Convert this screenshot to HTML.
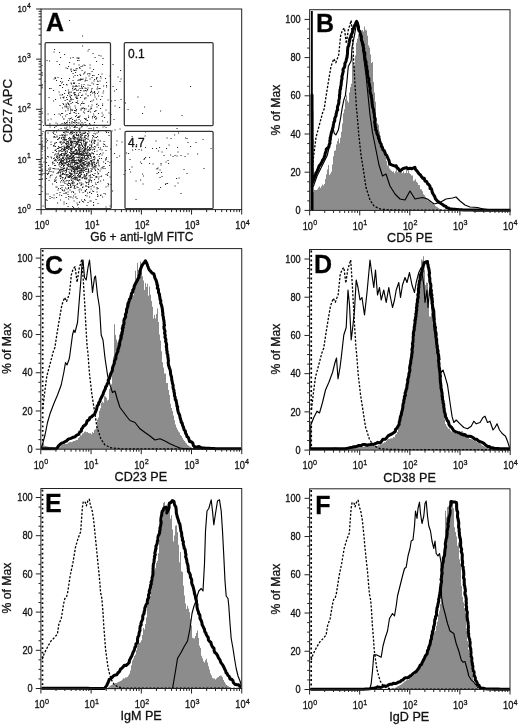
<!DOCTYPE html>
<html><head><meta charset="utf-8"><title>Figure</title>
<style>html,body{margin:0;padding:0;background:#fff}svg{display:block;filter:grayscale(1)}text{stroke:#111;stroke-width:.3px}</style></head>
<body>
<svg width="520" height="726" viewBox="0 0 520 726" font-family='"Liberation Sans", Arial, sans-serif'>
<rect width="520" height="726" fill="#fff"/>
<defs>
<clipPath id="clipB"><rect x="309.65" y="9.70" width="201.35" height="202.20"/></clipPath>
<clipPath id="clipC"><rect x="40.80" y="248.60" width="201.95" height="202.10"/></clipPath>
<clipPath id="clipD"><rect x="309.55" y="249.50" width="201.65" height="202.10"/></clipPath>
<clipPath id="clipE"><rect x="40.90" y="488.50" width="201.85" height="201.50"/></clipPath>
<clipPath id="clipF"><rect x="309.60" y="488.80" width="201.40" height="202.20"/></clipPath>
</defs>
<path d="M60.0 150.5h1.1M87.5 165.5h1.1M58.5 158.0h1.1M81.0 139.0h1.1M60.0 178.5h1.1M84.0 149.0h1.1M94.5 140.5h1.1M74.0 161.5h1.1M107.5 161.5h1.1M65.5 176.0h1.1M76.5 154.5h1.1M71.0 158.0h1.1M78.5 145.5h1.1M89.0 153.5h1.1M53.0 145.5h1.1M57.5 160.0h1.1M56.5 157.0h1.1M65.5 153.5h1.1M116.5 157.5h1.1M86.0 179.0h1.1M71.5 146.0h1.1M74.0 151.0h1.1M76.5 173.5h1.1M82.5 170.5h1.1M98.5 165.5h1.1M84.0 157.0h1.1M87.0 167.0h1.1M87.5 159.0h1.1M91.0 146.5h1.1M77.0 170.0h1.1M85.0 149.0h1.1M96.0 163.0h1.1M82.0 148.5h1.1M78.5 153.5h1.1M77.5 167.0h1.1M62.5 163.5h1.1M82.5 132.0h1.1M87.5 139.5h1.1M85.0 145.5h1.1M77.5 144.0h1.1M97.5 162.5h1.1M66.5 124.5h1.1M78.5 141.0h1.1M86.0 175.5h1.1M105.5 127.5h1.1M77.5 144.5h1.1M77.0 171.5h1.1M74.0 151.0h1.1M89.0 145.0h1.1M76.0 134.5h1.1M65.5 144.0h1.1M89.0 162.0h1.1M53.0 172.0h1.1M78.0 148.0h1.1M94.5 173.5h1.1M75.0 146.0h1.1M73.0 196.0h1.1M85.5 118.5h1.1M88.0 172.0h1.1M70.0 153.5h1.1M106.5 146.5h1.1M76.5 131.0h1.1M74.0 126.0h1.1M66.5 165.0h1.1M84.0 133.5h1.1M83.5 152.0h1.1M52.5 168.5h1.1M67.5 166.0h1.1M82.5 162.5h1.1M85.0 155.5h1.1M71.0 155.0h1.1M80.5 142.5h1.1M69.0 161.0h1.1M58.0 130.5h1.1M93.5 160.0h1.1M69.0 177.5h1.1M77.5 153.5h1.1M102.5 153.0h1.1M65.5 197.5h1.1M93.0 154.0h1.1M55.0 154.0h1.1M55.0 99.5h1.1M89.0 147.5h1.1M73.0 192.5h1.1M73.5 182.5h1.1M82.5 192.5h1.1M64.0 137.0h1.1M96.0 176.5h1.1M56.0 142.5h1.1M86.0 173.5h1.1M66.5 168.5h1.1M60.5 168.0h1.1M91.0 145.5h1.1M101.0 158.5h1.1M73.5 173.0h1.1M73.5 178.5h1.1M53.0 145.5h1.1M93.5 143.0h1.1M92.0 153.0h1.1M66.0 155.5h1.1M70.5 175.5h1.1M54.0 181.5h1.1M75.0 154.5h1.1M69.5 133.5h1.1M77.5 147.5h1.1M90.5 170.5h1.1M50.5 144.5h1.1M66.5 135.0h1.1M79.5 140.5h1.1M85.0 191.5h1.1M84.0 168.0h1.1M65.5 164.0h1.1M85.0 142.5h1.1M88.0 184.5h1.1M68.0 196.5h1.1M74.0 147.0h1.1M65.5 153.0h1.1M78.0 140.5h1.1M65.0 170.5h1.1M65.5 128.0h1.1M89.0 159.0h1.1M78.0 155.0h1.1M77.5 160.5h1.1M71.0 177.5h1.1M67.0 129.5h1.1M82.0 156.0h1.1M72.5 156.0h1.1M79.5 167.5h1.1M77.5 153.0h1.1M66.0 170.0h1.1M62.5 174.5h1.1M86.5 196.0h1.1M72.0 167.0h1.1M67.5 155.5h1.1M89.5 155.5h1.1M73.5 167.0h1.1M73.5 142.0h1.1M70.5 176.0h1.1M59.5 175.5h1.1M58.0 139.0h1.1M79.5 161.0h1.1M93.5 168.0h1.1M84.5 143.5h1.1M56.0 182.5h1.1M63.5 142.0h1.1M91.5 177.5h1.1M88.5 163.5h1.1M70.5 166.0h1.1M71.0 187.0h1.1M62.5 177.5h1.1M81.5 122.5h1.1M109.5 162.5h1.1M53.5 163.5h1.1M63.5 124.0h1.1M82.5 169.0h1.1M87.0 148.0h1.1M55.0 165.5h1.1M72.0 156.5h1.1M77.0 162.5h1.1M77.5 166.5h1.1M64.0 132.0h1.1M79.5 149.5h1.1M55.0 159.5h1.1M85.5 178.5h1.1M89.0 163.5h1.1M80.5 159.0h1.1M78.0 137.0h1.1M70.0 131.0h1.1M65.5 172.5h1.1M84.0 174.5h1.1M70.5 142.0h1.1M90.5 186.5h1.1M81.5 126.0h1.1M90.0 161.0h1.1M67.5 162.0h1.1M60.5 161.5h1.1M73.0 159.5h1.1M90.0 161.0h1.1M57.0 139.5h1.1M62.0 164.5h1.1M73.5 162.5h1.1M62.5 161.0h1.1M102.5 167.0h1.1M73.5 138.5h1.1M84.5 144.5h1.1M86.0 189.5h1.1M64.5 155.0h1.1M81.5 135.5h1.1M81.0 161.0h1.1M75.5 160.5h1.1M78.5 146.0h1.1M71.0 170.5h1.1M64.5 139.0h1.1M91.5 140.5h1.1M86.0 143.0h1.1M75.0 146.0h1.1M62.0 160.5h1.1M66.0 145.0h1.1M68.0 158.5h1.1M80.0 134.5h1.1M65.5 172.5h1.1M85.5 175.5h1.1M81.0 166.5h1.1M74.0 187.0h1.1M84.0 165.0h1.1M64.0 122.5h1.1M84.0 99.0h1.1M80.5 162.5h1.1M76.5 130.5h1.1M75.0 149.5h1.1M81.5 172.0h1.1M77.0 165.5h1.1M59.5 142.5h1.1M83.5 155.5h1.1M64.0 190.0h1.1M81.5 158.5h1.1M54.0 158.0h1.1M56.0 157.5h1.1M77.0 151.0h1.1M78.0 154.0h1.1M61.0 163.5h1.1M69.0 161.0h1.1M78.5 146.5h1.1M95.5 199.5h1.1M80.0 160.0h1.1M103.5 141.5h1.1M54.5 150.5h1.1M68.5 140.5h1.1M62.0 158.5h1.1M73.5 158.5h1.1M68.0 187.5h1.1M81.0 140.5h1.1M74.5 174.0h1.1M77.5 147.5h1.1M73.0 157.0h1.1M93.0 175.5h1.1M68.0 188.5h1.1M66.5 169.0h1.1M63.0 168.5h1.1M97.5 160.0h1.1M74.0 120.5h1.1M74.5 185.5h1.1M80.5 172.5h1.1M95.5 177.5h1.1M68.0 183.5h1.1M76.5 173.5h1.1M74.5 163.0h1.1M67.5 141.5h1.1M87.0 156.0h1.1M64.0 174.5h1.1M78.5 117.5h1.1M69.5 170.0h1.1M66.5 175.0h1.1M63.0 160.5h1.1M93.0 157.0h1.1M69.0 183.5h1.1M78.0 157.5h1.1M60.0 175.0h1.1M74.5 140.0h1.1M83.0 153.5h1.1M71.0 151.5h1.1M75.0 121.0h1.1M61.0 163.0h1.1M91.0 161.5h1.1M93.0 157.5h1.1M77.0 163.0h1.1M58.0 173.0h1.1M103.0 146.5h1.1M83.0 141.0h1.1M82.5 140.0h1.1M72.0 160.5h1.1M87.5 163.0h1.1M58.5 160.5h1.1M68.5 147.0h1.1M66.0 174.5h1.1M71.0 131.0h1.1M74.5 154.5h1.1M75.5 152.0h1.1M87.0 134.0h1.1M54.5 134.5h1.1M75.0 162.5h1.1M105.5 159.5h1.1M99.5 141.0h1.1M62.5 149.0h1.1M84.5 159.0h1.1M46.0 162.5h1.1M73.0 175.5h1.1M98.0 161.0h1.1M70.5 162.0h1.1M65.5 170.0h1.1M76.5 152.0h1.1M69.0 158.5h1.1M58.0 148.5h1.1M66.0 153.5h1.1M64.0 165.5h1.1M78.0 177.0h1.1M106.0 157.5h1.1M74.5 169.0h1.1M95.0 134.0h1.1M79.0 179.5h1.1M69.0 146.5h1.1M69.0 176.5h1.1M60.5 169.5h1.1M75.5 167.5h1.1M75.5 110.5h1.1M97.5 174.0h1.1M79.5 155.5h1.1M73.5 139.5h1.1M71.0 162.5h1.1M70.5 158.5h1.1M91.5 144.0h1.1M58.5 164.5h1.1M65.0 143.5h1.1M78.0 142.0h1.1M74.5 188.5h1.1M81.0 153.0h1.1M81.5 178.5h1.1M76.0 168.5h1.1M66.5 151.0h1.1M79.5 171.5h1.1M53.5 198.0h1.1M68.0 138.5h1.1M74.5 194.0h1.1M64.5 150.0h1.1M96.0 137.5h1.1M80.0 153.5h1.1M62.0 164.5h1.1M71.0 170.0h1.1M76.0 163.5h1.1M79.5 133.0h1.1M84.5 150.0h1.1M72.0 182.0h1.1M74.0 148.0h1.1M62.5 136.0h1.1M71.0 151.0h1.1M71.0 177.5h1.1M101.0 176.0h1.1M86.5 166.0h1.1M78.5 170.5h1.1M70.0 141.5h1.1M99.5 171.0h1.1M75.5 141.5h1.1M67.5 145.0h1.1M65.5 147.0h1.1M80.5 137.0h1.1M80.0 176.5h1.1M83.5 175.0h1.1M84.5 132.0h1.1M82.5 166.0h1.1M90.0 154.0h1.1M59.5 163.0h1.1M93.0 162.0h1.1M76.5 162.5h1.1M54.0 165.5h1.1M79.5 153.5h1.1M73.0 192.5h1.1M90.5 145.0h1.1M88.0 135.5h1.1M69.5 167.0h1.1M79.0 129.0h1.1M54.0 160.5h1.1M66.0 147.5h1.1M93.5 162.0h1.1M59.5 156.0h1.1M71.5 182.5h1.1M86.5 165.5h1.1M84.0 178.5h1.1M89.0 181.0h1.1M88.5 187.0h1.1M92.5 163.0h1.1M55.5 161.0h1.1M79.5 173.5h1.1M69.0 152.5h1.1M73.0 207.5h1.1M70.0 150.0h1.1M79.0 140.0h1.1M66.5 114.5h1.1M85.0 152.0h1.1M89.0 141.0h1.1M76.5 167.0h1.1M88.0 150.0h1.1M51.5 175.0h1.1M81.0 155.0h1.1M78.5 146.5h1.1M77.0 130.5h1.1M68.0 163.5h1.1M79.0 144.5h1.1M85.0 132.5h1.1M69.0 137.5h1.1M81.0 174.0h1.1M73.5 122.5h1.1M85.0 164.5h1.1M45.0 169.0h1.1M66.5 155.5h1.1M104.0 144.5h1.1M79.0 172.5h1.1M60.5 160.5h1.1M69.5 107.0h1.1M70.0 167.0h1.1M89.5 155.5h1.1M59.5 135.5h1.1M71.5 179.0h1.1M79.0 149.0h1.1M71.0 145.5h1.1M85.5 171.5h1.1M49.5 196.5h1.1M73.5 136.5h1.1M88.0 134.0h1.1M98.5 156.5h1.1M88.5 182.0h1.1M84.0 150.5h1.1M74.0 164.5h1.1M61.0 154.5h1.1M91.0 163.0h1.1M82.0 168.0h1.1M78.5 173.5h1.1M80.0 160.5h1.1M79.0 167.0h1.1M60.5 162.5h1.1M88.0 131.0h1.1M71.0 143.5h1.1M84.5 150.5h1.1M56.0 151.5h1.1M63.0 137.5h1.1M85.0 146.5h1.1M43.5 146.5h1.1M84.0 178.0h1.1M87.5 155.5h1.1M73.0 168.5h1.1M62.5 164.0h1.1M114.0 153.5h1.1M78.0 167.5h1.1M67.5 166.0h1.1M64.0 142.5h1.1M72.0 142.5h1.1M60.5 141.5h1.1M75.0 146.0h1.1M74.0 171.5h1.1M90.5 164.0h1.1M73.5 171.5h1.1M78.0 163.5h1.1M78.5 151.0h1.1M66.5 180.5h1.1M80.5 142.0h1.1M84.0 176.0h1.1M83.0 150.5h1.1M79.0 150.0h1.1M71.0 153.5h1.1M87.0 165.5h1.1M57.0 158.5h1.1M77.5 187.5h1.1M66.5 147.0h1.1M73.5 155.5h1.1M59.5 142.0h1.1M97.0 160.0h1.1M66.0 176.0h1.1M86.5 155.0h1.1M65.0 137.0h1.1M85.0 147.0h1.1M53.0 158.5h1.1M83.0 177.0h1.1M87.0 133.5h1.1M88.0 169.0h1.1M66.5 141.5h1.1M87.5 136.5h1.1M90.5 158.5h1.1M70.0 187.5h1.1M85.0 119.5h1.1M69.5 165.0h1.1M83.5 151.0h1.1M58.0 169.0h1.1M61.5 123.5h1.1M66.0 143.0h1.1M99.0 125.5h1.1M93.0 130.0h1.1M59.5 162.5h1.1M66.0 161.5h1.1M108.0 184.5h1.1M82.0 177.5h1.1M92.0 135.5h1.1M69.0 122.5h1.1M76.0 135.5h1.1M79.0 166.0h1.1M70.5 159.0h1.1M83.0 155.0h1.1M105.0 160.0h1.1M69.5 169.0h1.1M65.5 181.0h1.1M63.0 142.0h1.1M76.0 160.0h1.1M79.5 139.5h1.1M83.0 144.0h1.1M68.0 161.5h1.1M65.5 158.5h1.1M65.0 163.0h1.1M73.0 160.5h1.1M72.0 165.0h1.1M91.5 162.5h1.1M62.5 153.5h1.1M61.5 174.5h1.1M76.5 184.5h1.1M88.0 184.5h1.1M64.0 147.5h1.1M50.5 171.5h1.1M60.0 160.0h1.1M50.5 142.0h1.1M73.5 152.0h1.1M71.0 192.0h1.1M73.5 179.0h1.1M75.5 171.0h1.1M71.0 160.5h1.1M85.0 144.5h1.1M62.5 157.0h1.1M93.5 149.0h1.1M66.0 159.0h1.1M71.0 141.5h1.1M75.5 150.5h1.1M103.0 180.0h1.1M62.5 185.5h1.1M55.0 143.0h1.1M79.0 130.0h1.1M50.5 171.5h1.1M93.5 140.0h1.1M86.5 142.5h1.1M75.5 157.0h1.1M75.5 143.0h1.1M73.0 151.5h1.1M93.5 175.5h1.1M66.0 147.5h1.1M72.0 159.5h1.1M101.5 150.0h1.1M70.0 139.0h1.1M107.0 175.5h1.1M67.0 155.0h1.1M67.0 121.0h1.1M82.0 163.5h1.1M81.5 170.0h1.1M67.5 155.0h1.1M105.0 194.0h1.1M80.5 134.5h1.1M84.5 125.0h1.1M81.0 154.5h1.1M73.5 171.0h1.1M95.5 176.5h1.1M73.5 165.5h1.1M65.5 193.5h1.1M70.5 154.5h1.1M77.0 143.0h1.1M73.0 167.5h1.1M79.0 146.0h1.1M64.0 182.0h1.1M62.5 139.5h1.1M87.5 171.5h1.1M76.5 143.0h1.1M92.0 168.0h1.1M72.0 133.5h1.1M105.5 131.5h1.1M61.0 149.5h1.1M71.5 158.0h1.1M67.0 165.0h1.1M75.0 127.0h1.1M84.0 150.0h1.1M75.5 169.5h1.1M72.5 136.5h1.1M85.5 124.5h1.1M78.5 157.5h1.1M55.0 150.5h1.1M53.5 131.5h1.1M67.5 157.0h1.1M58.5 165.0h1.1M63.5 138.0h1.1M78.5 176.5h1.1M51.0 158.0h1.1M69.0 175.5h1.1M82.5 160.0h1.1M76.5 166.5h1.1M68.0 164.5h1.1M55.0 146.5h1.1M80.5 185.5h1.1M76.5 138.0h1.1M78.0 135.5h1.1M72.0 157.0h1.1M59.0 172.0h1.1M52.5 172.0h1.1M78.5 148.5h1.1M90.0 155.0h1.1M63.0 150.0h1.1M73.5 127.5h1.1M100.0 141.0h1.1M61.0 165.5h1.1M77.5 168.5h1.1M82.0 145.5h1.1M85.5 153.0h1.1M64.0 171.0h1.1M73.5 135.0h1.1M95.0 141.0h1.1M79.5 146.0h1.1M85.5 135.5h1.1M86.0 182.5h1.1M87.0 150.5h1.1M69.5 148.0h1.1M79.0 158.0h1.1M54.0 155.0h1.1M82.0 157.5h1.1M55.5 149.5h1.1M84.0 154.0h1.1M80.5 163.0h1.1M67.0 148.5h1.1M71.0 154.0h1.1M116.0 145.0h1.1M77.0 184.0h1.1M76.5 144.5h1.1M66.5 161.0h1.1M47.0 148.0h1.1M67.5 145.5h1.1M92.5 159.5h1.1M87.5 153.0h1.1M72.5 161.5h1.1M64.5 135.5h1.1M86.0 173.5h1.1M86.0 169.0h1.1M56.5 137.0h1.1M59.0 137.5h1.1M77.5 142.0h1.1M81.5 138.0h1.1M79.5 147.5h1.1M78.5 139.0h1.1M70.5 140.0h1.1M94.0 158.0h1.1M80.5 165.5h1.1M71.5 152.5h1.1M71.0 171.5h1.1M75.0 154.0h1.1M79.5 145.0h1.1M53.0 133.5h1.1M73.0 169.5h1.1M70.5 149.5h1.1M86.0 163.0h1.1M77.0 183.5h1.1M77.5 159.0h1.1M70.0 142.5h1.1M97.5 140.0h1.1M65.5 131.5h1.1M71.0 157.5h1.1M68.0 149.5h1.1M82.0 154.5h1.1M72.5 159.5h1.1M70.0 141.0h1.1M68.5 159.5h1.1M72.5 169.5h1.1M72.5 181.0h1.1M80.5 148.0h1.1M71.5 131.5h1.1M65.0 148.0h1.1M81.0 166.0h1.1M72.0 142.0h1.1M76.0 152.5h1.1M92.5 153.5h1.1M54.5 169.0h1.1M85.5 159.0h1.1M61.5 189.5h1.1M79.0 132.0h1.1M59.5 192.5h1.1M81.5 166.0h1.1M71.5 162.5h1.1M64.0 149.5h1.1M86.5 151.0h1.1M68.5 140.0h1.1M74.0 147.5h1.1M63.5 146.0h1.1M84.5 135.5h1.1M75.5 149.5h1.1M68.0 142.5h1.1M85.0 139.0h1.1M70.5 177.0h1.1M74.5 160.5h1.1M66.0 147.0h1.1M87.0 150.5h1.1M89.0 150.5h1.1M63.0 166.5h1.1M71.0 145.5h1.1M86.5 154.5h1.1M88.0 170.5h1.1M74.0 132.5h1.1M80.5 140.0h1.1M52.0 184.0h1.1M64.5 140.5h1.1M95.5 167.0h1.1M63.0 173.5h1.1M64.0 148.0h1.1M71.5 126.0h1.1M84.0 168.0h1.1M78.0 159.5h1.1M85.0 142.0h1.1M71.0 142.5h1.1M82.5 158.5h1.1M78.5 146.0h1.1M71.5 168.0h1.1M91.0 157.0h1.1M68.0 149.5h1.1M57.0 156.0h1.1M58.5 164.0h1.1M53.5 168.5h1.1M86.5 160.0h1.1M60.5 128.5h1.1M67.5 132.5h1.1M69.0 180.5h1.1M98.0 164.0h1.1M84.5 137.5h1.1M59.0 155.5h1.1M68.0 147.0h1.1M75.0 177.5h1.1M76.0 144.5h1.1M71.5 147.5h1.1M68.5 157.5h1.1M79.5 154.5h1.1M91.0 141.5h1.1M85.5 145.0h1.1M77.0 175.5h1.1M88.5 128.5h1.1M78.0 161.0h1.1M75.0 137.5h1.1M79.0 173.0h1.1M73.0 169.5h1.1M73.0 171.5h1.1M64.5 133.0h1.1M88.0 183.0h1.1M63.5 164.0h1.1M70.5 179.0h1.1M86.0 183.0h1.1M84.0 145.5h1.1M71.0 167.5h1.1M76.0 154.5h1.1M49.5 177.0h1.1M82.0 158.5h1.1M70.0 173.0h1.1M66.5 169.0h1.1M109.5 177.0h1.1M94.0 149.0h1.1M78.0 153.5h1.1M70.5 131.0h1.1M81.5 157.5h1.1M74.0 153.5h1.1M61.5 162.0h1.1M67.5 147.0h1.1M82.5 187.0h1.1M72.5 141.0h1.1M59.5 176.0h1.1M87.5 159.0h1.1M70.0 176.5h1.1M77.5 166.0h1.1M78.0 150.0h1.1M84.0 162.0h1.1M69.0 156.5h1.1M74.0 154.0h1.1M69.0 160.5h1.1M68.0 166.5h1.1M77.0 138.0h1.1M68.5 147.5h1.1M79.5 155.0h1.1M83.5 166.0h1.1M82.0 152.0h1.1M82.5 125.0h1.1M62.5 155.5h1.1M79.5 172.5h1.1M90.0 149.5h1.1M65.5 176.0h1.1M70.0 118.5h1.1M102.0 197.0h1.1M53.0 146.0h1.1M74.0 167.0h1.1M82.5 155.5h1.1M79.0 152.5h1.1M62.0 135.5h1.1M69.5 138.5h1.1M84.0 156.0h1.1M77.0 157.5h1.1M52.5 162.0h1.1M80.5 183.0h1.1M57.0 139.5h1.1M85.0 182.0h1.1M81.0 157.5h1.1M87.5 162.0h1.1M72.5 169.0h1.1M77.5 159.0h1.1M67.0 162.5h1.1M66.0 146.5h1.1M62.5 182.0h1.1M63.5 139.0h1.1M69.0 146.5h1.1M84.5 165.0h1.1M84.5 148.5h1.1M74.5 168.5h1.1M74.5 177.5h1.1M72.0 166.5h1.1M80.5 151.5h1.1M67.5 143.0h1.1M90.0 156.0h1.1M66.0 148.5h1.1M45.0 166.5h1.1M82.5 124.0h1.1M66.0 132.0h1.1M104.0 126.0h1.1M46.0 139.0h1.1M77.5 140.5h1.1M73.0 167.0h1.1M72.5 132.5h1.1M85.5 161.5h1.1M80.0 142.5h1.1M82.5 157.5h1.1M67.0 169.0h1.1M70.0 166.0h1.1M55.5 180.0h1.1M86.0 175.0h1.1M59.0 157.5h1.1M93.0 136.0h1.1M70.0 174.0h1.1M68.5 172.0h1.1M68.5 149.0h1.1M62.0 169.5h1.1M72.0 157.5h1.1M65.5 170.0h1.1M61.0 169.5h1.1M81.5 161.0h1.1M74.5 171.0h1.1M72.0 206.5h1.1M54.5 137.5h1.1M102.0 121.0h1.1M66.0 156.5h1.1M85.0 177.0h1.1M97.0 169.0h1.1M79.5 176.0h1.1M80.0 157.0h1.1M88.5 176.0h1.1M75.0 127.0h1.1M60.5 151.0h1.1M80.5 165.0h1.1M72.0 133.5h1.1M89.5 147.5h1.1M78.5 175.5h1.1M76.5 127.5h1.1M88.5 179.5h1.1M49.5 168.0h1.1M77.5 166.0h1.1M71.5 151.5h1.1M86.5 153.5h1.1M91.0 180.5h1.1M81.0 150.0h1.1M56.5 136.0h1.1M55.0 181.0h1.1M108.5 135.5h1.1M80.0 134.5h1.1M89.5 175.5h1.1M81.5 133.5h1.1M73.0 155.5h1.1M69.5 145.0h1.1M68.5 166.5h1.1M60.0 172.5h1.1M78.0 149.0h1.1M70.5 174.5h1.1M79.5 151.0h1.1M91.0 165.0h1.1M70.0 148.5h1.1M94.5 158.0h1.1M74.0 172.5h1.1M70.5 141.0h1.1M86.0 138.5h1.1M54.5 143.0h1.1M63.5 147.0h1.1M45.5 158.5h1.1M64.0 135.5h1.1M76.5 135.5h1.1M69.5 124.0h1.1M69.5 125.5h1.1M69.0 173.5h1.1M86.5 163.5h1.1M74.5 179.5h1.1M71.0 155.0h1.1M66.5 150.5h1.1M46.0 142.0h1.1M70.0 132.5h1.1M71.0 168.0h1.1M69.5 152.5h1.1M83.0 164.5h1.1M65.0 149.5h1.1M85.5 186.0h1.1M62.0 168.0h1.1M97.0 136.5h1.1M85.5 148.5h1.1M61.0 138.0h1.1M69.5 170.0h1.1M100.0 181.0h1.1M93.0 153.5h1.1M63.5 154.0h1.1M64.5 154.0h1.1M67.0 177.0h1.1M109.0 165.5h1.1M88.0 157.5h1.1M84.0 178.0h1.1M88.0 149.5h1.1M60.5 143.0h1.1M83.0 108.0h1.1M78.0 141.5h1.1M83.0 144.0h1.1M75.0 164.0h1.1M84.5 136.0h1.1M60.5 176.0h1.1M74.5 126.5h1.1M72.5 185.5h1.1M85.5 144.0h1.1M100.0 153.5h1.1M100.5 169.0h1.1M86.5 154.5h1.1M60.0 161.5h1.1M92.0 138.0h1.1M70.5 138.5h1.1M86.5 142.0h1.1M79.0 152.0h1.1M65.0 158.0h1.1M77.0 169.0h1.1M71.5 154.0h1.1M78.0 139.0h1.1M62.0 163.5h1.1M78.5 163.0h1.1M79.5 164.5h1.1M90.0 160.5h1.1M61.0 144.5h1.1M96.5 189.0h1.1M73.5 155.5h1.1M88.5 132.0h1.1M73.5 183.0h1.1M83.5 140.0h1.1M81.0 155.5h1.1M65.0 116.0h1.1M60.0 182.0h1.1M87.5 152.0h1.1M84.0 151.0h1.1M96.5 133.0h1.1M68.5 140.0h1.1M60.5 185.5h1.1M90.5 164.0h1.1M48.0 157.0h1.1M67.0 148.5h1.1M74.5 169.5h1.1M66.0 144.0h1.1M63.5 154.5h1.1M63.0 149.5h1.1M98.0 147.5h1.1M89.5 149.5h1.1M63.0 162.0h1.1M76.0 149.5h1.1M67.5 146.5h1.1M66.0 155.5h1.1M75.0 176.0h1.1M88.0 156.0h1.1M76.5 157.5h1.1M48.5 180.5h1.1M64.0 140.0h1.1M68.0 146.5h1.1M62.5 171.0h1.1M69.5 139.0h1.1M54.5 160.0h1.1M80.5 154.5h1.1M75.0 144.0h1.1M79.0 173.5h1.1M83.5 170.0h1.1M71.0 132.5h1.1M106.0 132.5h1.1M80.5 170.0h1.1M65.5 129.0h1.1M79.5 180.0h1.1M95.0 147.0h1.1M92.0 150.0h1.1M48.0 169.0h1.1M73.5 159.5h1.1M94.5 168.0h1.1M74.0 158.0h1.1M74.0 174.0h1.1M60.0 200.0h1.1M79.5 160.0h1.1M78.0 174.5h1.1M75.5 173.0h1.1M62.5 151.0h1.1M83.5 147.0h1.1M74.5 163.5h1.1M93.0 136.0h1.1M67.5 175.0h1.1M80.0 151.5h1.1M63.5 119.0h1.1M49.0 171.0h1.1M78.5 140.5h1.1M52.0 164.0h1.1M93.5 133.5h1.1M72.0 156.0h1.1M64.0 150.5h1.1M62.0 190.5h1.1M56.0 156.0h1.1M58.5 138.5h1.1M91.5 140.0h1.1M83.5 138.0h1.1M78.5 142.5h1.1M81.0 144.0h1.1M62.5 168.0h1.1M62.5 143.0h1.1M81.5 170.0h1.1M63.0 166.5h1.1M86.5 158.5h1.1M72.0 168.5h1.1M74.0 130.0h1.1M66.5 162.5h1.1M96.5 145.0h1.1M61.0 138.5h1.1M59.5 147.5h1.1M43.5 173.5h1.1M87.0 167.0h1.1M66.0 156.0h1.1M75.5 164.5h1.1M66.5 127.0h1.1M94.0 151.5h1.1M61.0 165.5h1.1M71.5 148.5h1.1M95.5 165.5h1.1M77.0 164.0h1.1M77.0 168.5h1.1M80.0 137.5h1.1M70.5 162.5h1.1M76.5 178.5h1.1M98.0 179.0h1.1M71.0 171.5h1.1M94.0 165.0h1.1M69.0 125.5h1.1M74.0 170.0h1.1M75.0 153.5h1.1M66.0 160.0h1.1M72.5 145.0h1.1M85.0 143.0h1.1M73.5 143.5h1.1M72.5 137.5h1.1M80.5 164.0h1.1M91.0 182.0h1.1M63.0 170.0h1.1M73.5 177.5h1.1M60.0 188.5h1.1M76.5 169.5h1.1M103.0 144.0h1.1M61.0 135.0h1.1M76.5 139.0h1.1M61.5 137.5h1.1M89.0 164.0h1.1M64.5 163.0h1.1M78.5 116.5h1.1M98.0 132.0h1.1M72.5 162.5h1.1M80.0 161.5h1.1M69.5 160.5h1.1M86.0 158.0h1.1M78.5 161.0h1.1M73.0 162.5h1.1M91.0 153.0h1.1M94.0 159.5h1.1M88.5 180.0h1.1M70.0 158.0h1.1M67.5 158.5h1.1M63.5 159.5h1.1M67.0 157.0h1.1M71.5 173.5h1.1M70.0 156.5h1.1M59.0 155.0h1.1M91.0 160.5h1.1M82.0 146.5h1.1M65.0 135.0h1.1M107.0 174.0h1.1M102.5 168.5h1.1M93.5 187.0h1.1M89.5 154.5h1.1M59.0 170.5h1.1M62.0 172.0h1.1M80.0 160.0h1.1M43.5 162.0h1.1M81.0 155.5h1.1M96.5 187.5h1.1M78.5 156.5h1.1M84.5 179.0h1.1M59.0 159.5h1.1M76.5 187.0h1.1M80.0 157.0h1.1M84.5 200.5h1.1M81.5 171.5h1.1M69.5 144.0h1.1M96.5 154.5h1.1M74.0 135.0h1.1M64.0 159.5h1.1M69.0 173.0h1.1M77.5 123.0h1.1M78.5 148.5h1.1M75.0 138.0h1.1M77.5 171.5h1.1M76.5 133.0h1.1M74.0 137.0h1.1M74.5 123.0h1.1M79.0 146.0h1.1M71.5 143.0h1.1M72.5 181.5h1.1M79.0 177.0h1.1M94.0 143.5h1.1M75.5 145.5h1.1M42.5 131.5h1.1M67.0 145.5h1.1M107.5 183.5h1.1M70.0 151.0h1.1M80.5 185.0h1.1M63.5 132.0h1.1M67.5 147.5h1.1M58.0 172.0h1.1M52.5 152.5h1.1M90.0 155.5h1.1M72.0 153.0h1.1M81.0 161.5h1.1M82.5 124.5h1.1M103.5 166.5h1.1M59.5 125.0h1.1M87.5 136.5h1.1M83.0 160.5h1.1M87.5 138.0h1.1M90.0 175.0h1.1M88.5 162.5h1.1M71.0 151.0h1.1M71.0 118.0h1.1M82.5 152.5h1.1M73.0 152.5h1.1M72.5 147.0h1.1M86.0 143.0h1.1M59.5 162.5h1.1M76.5 177.0h1.1M80.0 159.0h1.1M76.0 150.5h1.1M67.5 131.0h1.1M88.5 166.0h1.1M81.0 144.5h1.1M65.5 162.5h1.1M84.0 199.5h1.1M58.5 151.5h1.1M83.0 172.0h1.1M86.0 120.0h1.1M78.0 157.5h1.1M76.0 173.5h1.1M82.5 154.0h1.1M84.5 133.0h1.1M76.0 153.5h1.1M79.5 128.0h1.1M57.0 157.0h1.1M67.5 154.5h1.1M86.0 155.5h1.1M84.5 153.5h1.1M66.5 167.5h1.1M58.0 153.0h1.1M70.5 143.0h1.1M87.5 171.5h1.1M61.5 146.5h1.1M64.5 153.5h1.1M83.0 163.0h1.1M98.0 169.5h1.1M80.5 163.5h1.1M73.5 147.0h1.1M73.5 169.0h1.1M69.0 162.0h1.1M85.0 161.5h1.1M91.0 142.5h1.1M66.0 139.5h1.1M47.0 156.5h1.1M63.0 158.5h1.1M90.0 156.5h1.1M73.0 135.5h1.1M66.0 170.5h1.1M87.5 146.5h1.1M57.5 154.0h1.1M85.0 159.5h1.1M70.5 154.5h1.1M78.0 168.5h1.1M86.0 183.0h1.1M74.5 121.0h1.1M62.0 157.5h1.1M46.5 170.5h1.1M61.0 155.5h1.1M69.0 126.0h1.1M63.5 157.0h1.1M78.0 146.0h1.1M86.5 182.5h1.1M103.0 162.0h1.1M66.5 184.0h1.1M70.0 186.0h1.1M77.5 166.5h1.1M79.5 170.0h1.1M76.0 120.0h1.1M90.0 154.0h1.1M63.0 132.5h1.1M54.0 180.0h1.1M91.5 166.5h1.1M92.5 147.5h1.1M102.5 127.0h1.1M82.5 167.5h1.1M83.0 133.5h1.1M77.0 205.0h1.1M70.5 163.0h1.1M74.5 162.5h1.1M89.5 178.0h1.1M81.0 190.0h1.1M48.0 173.5h1.1M66.0 171.5h1.1M66.5 146.5h1.1M82.5 155.5h1.1M78.0 168.5h1.1M63.0 180.5h1.1M70.0 175.5h1.1M71.0 145.0h1.1M82.0 135.0h1.1M63.5 193.5h1.1M61.5 124.0h1.1M84.0 164.0h1.1M92.0 164.0h1.1M96.0 163.5h1.1M70.0 145.5h1.1M61.0 159.5h1.1M99.5 149.5h1.1M61.5 161.0h1.1M75.0 169.5h1.1M80.5 136.0h1.1M76.0 142.0h1.1M79.0 154.5h1.1M66.0 141.0h1.1M92.0 164.5h1.1M64.0 148.5h1.1M76.5 138.5h1.1M81.5 159.0h1.1M58.0 146.5h1.1M76.5 178.0h1.1M56.5 187.0h1.1M83.0 164.0h1.1M67.0 159.0h1.1M75.5 162.5h1.1M84.5 140.0h1.1M72.5 131.0h1.1M73.5 171.5h1.1M77.0 180.5h1.1M71.5 174.5h1.1M70.0 153.5h1.1M44.5 150.5h1.1M78.5 160.5h1.1M84.0 151.5h1.1M70.5 173.5h1.1M84.5 144.5h1.1M56.5 169.0h1.1M60.5 143.0h1.1M68.0 177.5h1.1M94.0 149.5h1.1M78.0 153.0h1.1M73.0 156.5h1.1M86.5 149.5h1.1M69.5 155.5h1.1M98.5 166.0h1.1M58.5 155.0h1.1M61.0 113.5h1.1M83.0 147.5h1.1M80.0 124.5h1.1M62.5 158.0h1.1M54.0 136.5h1.1M74.0 127.5h1.1M71.5 174.5h1.1M66.5 143.5h1.1M65.0 153.0h1.1M66.0 169.0h1.1M68.0 130.0h1.1M61.5 151.5h1.1M85.0 169.5h1.1M56.0 132.0h1.1M97.0 161.0h1.1M60.0 142.5h1.1M74.5 171.0h1.1M70.0 197.0h1.1M65.0 177.5h1.1M58.5 147.5h1.1M78.5 129.0h1.1M64.5 135.0h1.1M88.0 155.0h1.1M76.0 169.5h1.1M68.5 164.5h1.1M43.0 125.5h1.1M84.5 122.5h1.1M90.5 149.0h1.1M85.5 185.5h1.1M62.0 143.0h1.1M70.0 184.0h1.1M75.0 178.5h1.1M75.0 131.0h1.1M60.5 164.5h1.1M82.0 157.5h1.1M77.5 171.5h1.1M70.5 197.0h1.1M72.5 136.0h1.1M61.0 160.5h1.1M84.0 137.0h1.1M89.5 172.0h1.1M69.5 128.0h1.1M69.0 152.5h1.1M64.0 168.5h1.1M47.0 174.5h1.1M62.5 134.5h1.1M84.5 150.5h1.1M68.5 180.5h1.1M81.0 171.0h1.1M73.5 141.5h1.1M72.5 158.0h1.1M62.5 140.0h1.1M81.5 145.5h1.1M95.5 184.5h1.1M75.0 146.5h1.1M79.0 152.0h1.1M81.0 183.0h1.1M74.0 138.0h1.1M74.0 160.5h1.1M85.5 186.5h1.1M80.0 132.0h1.1M71.5 171.0h1.1M81.5 165.0h1.1M64.5 154.5h1.1M54.0 146.0h1.1M59.5 166.5h1.1M84.0 158.0h1.1M78.0 134.5h1.1M94.0 122.5h1.1M68.0 142.0h1.1M54.0 144.0h1.1M91.5 169.5h1.1M81.0 143.5h1.1M73.0 168.0h1.1M94.0 179.5h1.1M77.0 141.5h1.1M78.0 131.0h1.1M93.5 149.5h1.1M97.5 145.0h1.1M59.0 163.0h1.1M78.5 154.0h1.1M47.5 120.0h1.1M49.5 198.5h1.1M83.5 168.0h1.1M101.5 167.5h1.1M82.0 156.0h1.1M63.5 202.0h1.1M68.0 149.0h1.1M71.0 144.0h1.1M66.5 155.0h1.1M76.5 153.0h1.1M76.0 168.0h1.1M68.0 144.0h1.1M75.5 161.0h1.1M87.0 193.0h1.1M62.0 173.5h1.1M97.0 196.5h1.1M59.0 195.0h1.1M69.5 197.0h1.1M62.0 160.5h1.1M57.5 172.5h1.1M56.0 177.0h1.1M77.0 167.5h1.1M75.0 166.5h1.1M83.0 202.0h1.1M74.0 157.5h1.1M97.5 203.5h1.1M66.0 203.5h1.1M75.5 197.0h1.1M59.5 155.0h1.1M103.5 193.5h1.1M87.5 164.5h1.1M96.5 177.0h1.1M62.0 174.0h1.1M89.0 192.5h1.1M83.0 172.5h1.1M79.0 172.0h1.1M86.0 154.0h1.1M71.0 180.5h1.1M50.5 157.0h1.1M58.0 188.5h1.1M85.0 149.5h1.1M96.5 192.0h1.1M80.0 148.0h1.1M62.0 177.5h1.1M55.5 187.0h1.1M88.0 170.0h1.1M70.0 185.0h1.1M101.5 155.0h1.1M55.5 123.0h1.1M69.0 176.0h1.1M68.0 185.5h1.1M86.5 205.5h1.1M76.5 179.5h1.1M105.0 163.5h1.1M83.5 160.5h1.1M86.0 169.5h1.1M70.5 156.0h1.1M81.0 184.5h1.1M61.0 195.5h1.1M81.0 174.5h1.1M61.0 180.5h1.1M82.0 187.5h1.1M74.0 186.0h1.1M77.0 154.0h1.1M97.5 188.5h1.1M86.0 166.0h1.1M77.5 153.5h1.1M90.5 201.0h1.1M100.5 176.5h1.1M65.0 188.0h1.1M72.5 198.0h1.1M94.0 162.5h1.1M61.0 153.5h1.1M80.0 170.5h1.1M92.0 174.5h1.1M71.5 161.0h1.1M45.5 199.5h1.1M84.5 148.0h1.1M48.0 172.0h1.1M65.0 178.5h1.1M86.0 138.5h1.1M105.5 150.5h1.1M86.5 169.0h1.1M45.0 163.0h1.1M56.0 197.5h1.1M78.0 208.0h1.1M105.5 158.5h1.1M82.0 161.0h1.1M80.0 170.5h1.1M88.0 187.5h1.1M80.5 168.5h1.1M89.0 197.0h1.1M80.0 175.0h1.1M86.5 160.0h1.1M79.0 161.5h1.1M83.5 141.5h1.1M81.0 160.0h1.1M60.5 177.0h1.1M89.0 148.5h1.1M60.0 173.0h1.1M71.5 171.0h1.1M68.0 182.0h1.1M75.0 169.5h1.1M93.0 191.5h1.1M60.0 154.5h1.1M84.5 176.5h1.1M57.0 148.5h1.1M58.0 146.5h1.1M80.0 175.5h1.1M73.0 153.5h1.1M82.5 151.0h1.1M93.0 202.5h1.1M111.5 131.0h1.1M61.5 148.5h1.1M110.5 184.5h1.1M45.5 194.0h1.1M108.0 172.5h1.1M86.5 154.0h1.1M68.0 176.5h1.1M77.5 180.0h1.1M67.0 185.0h1.1M66.0 144.5h1.1M82.5 149.0h1.1M75.0 150.5h1.1M72.5 185.5h1.1M82.5 184.0h1.1M62.0 179.0h1.1M77.0 172.0h1.1M91.0 171.5h1.1M68.0 103.5h1.1M72.5 178.5h1.1M73.5 188.0h1.1M50.0 168.0h1.1M63.5 162.5h1.1M64.5 160.0h1.1M75.0 197.0h1.1M72.5 184.0h1.1M83.0 142.0h1.1M78.5 167.0h1.1M67.0 164.5h1.1M73.5 201.0h1.1M83.0 168.5h1.1M94.0 166.5h1.1M87.5 202.5h1.1M45.0 185.0h1.1M70.5 164.0h1.1M74.0 176.0h1.1M76.5 166.5h1.1M79.5 165.0h1.1M67.5 174.5h1.1M51.5 197.5h1.1M71.5 162.5h1.1M63.5 204.0h1.1M92.0 191.0h1.1M47.5 194.0h1.1M69.5 134.0h1.1M63.5 191.0h1.1M95.0 170.5h1.1M74.5 141.5h1.1M56.5 173.5h1.1M84.5 167.5h1.1M56.5 193.5h1.1M105.5 174.5h1.1M71.5 148.0h1.1M46.5 173.5h1.1M47.0 140.5h1.1M59.5 169.5h1.1M61.0 169.5h1.1M81.5 172.0h1.1M71.0 166.5h1.1M72.0 183.5h1.1M86.5 153.0h1.1M53.5 195.0h1.1M63.0 165.5h1.1M53.0 137.0h1.1M77.0 168.5h1.1M90.5 189.0h1.1M82.0 163.0h1.1M97.5 196.0h1.1M99.0 158.5h1.1M80.5 148.0h1.1M72.0 176.5h1.1M90.0 180.0h1.1M94.0 141.0h1.1M79.5 168.0h1.1M65.5 192.5h1.1M100.0 195.5h1.1M77.5 165.5h1.1M61.5 187.5h1.1M64.5 124.0h1.1M82.5 140.5h1.1M110.0 149.0h1.1M98.0 182.0h1.1M65.0 139.5h1.1M100.5 195.0h1.1M95.0 165.0h1.1M89.5 150.0h1.1M107.5 186.0h1.1M76.5 143.5h1.1M72.0 159.5h1.1M67.0 152.0h1.1M67.5 206.5h1.1M68.0 169.5h1.1M84.5 164.0h1.1M85.0 195.5h1.1M66.5 189.0h1.1M69.0 161.5h1.1M98.5 177.0h1.1M94.0 146.5h1.1M57.5 190.0h1.1M79.0 202.5h1.1M56.5 154.0h1.1M64.0 155.5h1.1M60.5 147.5h1.1M67.0 155.0h1.1M93.0 205.0h1.1M58.5 150.5h1.1M76.0 152.5h1.1M100.0 148.0h1.1M88.5 181.0h1.1M70.0 164.0h1.1M91.0 147.0h1.1M81.5 178.0h1.1M75.5 134.0h1.1M81.5 126.5h1.1M65.0 151.5h1.1M80.5 154.0h1.1M64.5 163.5h1.1M75.5 177.5h1.1M57.0 203.0h1.1M71.0 159.0h1.1M81.0 166.0h1.1M82.0 201.5h1.1M94.5 169.5h1.1M64.5 183.5h1.1M93.0 167.0h1.1M49.5 124.0h1.1M52.5 132.5h1.1M91.0 193.5h1.1M97.5 143.0h1.1M94.0 156.5h1.1M82.0 166.5h1.1M68.0 165.0h1.1M98.0 173.5h1.1M109.5 206.0h1.1M77.5 204.5h1.1M48.0 165.5h1.1M71.5 183.5h1.1M59.5 176.5h1.1M50.0 175.5h1.1M68.0 199.0h1.1M84.0 165.0h1.1M85.5 168.0h1.1M90.0 177.0h1.1M59.0 162.5h1.1M64.0 179.0h1.1M79.0 192.0h1.1M93.0 205.5h1.1M97.0 172.0h1.1M105.0 146.0h1.1M88.0 164.5h1.1M79.0 202.0h1.1M67.5 192.0h1.1M65.0 174.0h1.1M64.0 168.0h1.1M72.5 181.5h1.1M83.5 160.5h1.1M55.0 178.0h1.1M125.0 170.5h1.1M84.5 191.0h1.1M93.0 136.5h1.1M86.5 174.0h1.1M86.5 178.0h1.1M83.5 162.5h1.1M80.5 124.0h1.1M92.0 185.5h1.1M87.0 157.0h1.1M77.5 139.5h1.1M59.5 162.5h1.1M60.5 167.5h1.1M52.0 162.5h1.1M72.5 191.5h1.1M67.5 177.0h1.1M92.0 165.5h1.1M73.5 167.5h1.1M91.5 160.5h1.1M105.5 187.0h1.1M90.5 168.5h1.1M66.5 157.5h1.1M90.5 149.0h1.1M85.0 190.5h1.1M79.5 162.5h1.1M104.5 168.5h1.1M79.5 136.0h1.1M78.0 181.0h1.1M81.5 154.0h1.1M70.5 148.5h1.1M64.5 152.0h1.1M79.5 189.0h1.1M42.5 206.0h1.1M85.5 177.0h1.1M87.5 173.0h1.1M79.0 183.0h1.1M70.5 149.0h1.1M89.5 201.0h1.1M86.5 126.0h1.1M89.5 192.0h1.1M89.0 166.0h1.1M71.5 149.5h1.1M97.0 182.5h1.1M79.0 180.0h1.1M77.0 135.5h1.1M70.0 158.5h1.1M81.0 169.0h1.1M58.5 157.0h1.1M59.0 155.0h1.1M75.5 168.0h1.1M69.5 190.0h1.1M60.0 171.0h1.1M75.5 164.5h1.1M72.0 154.0h1.1M79.0 168.5h1.1M73.0 171.5h1.1M87.5 186.5h1.1M57.0 162.5h1.1M84.0 170.5h1.1M81.0 200.0h1.1M61.0 171.0h1.1M76.5 198.5h1.1M97.0 194.5h1.1M67.5 194.5h1.1M55.0 178.0h1.1M46.0 178.5h1.1M79.5 177.5h1.1M76.5 203.0h1.1M46.5 200.5h1.1M94.0 164.0h1.1M47.5 133.0h1.1M87.0 147.0h1.1M93.5 142.0h1.1M49.5 169.5h1.1M64.0 128.0h1.1M88.0 171.5h1.1M78.5 190.0h1.1M99.0 154.5h1.1M75.5 180.0h1.1M95.0 183.0h1.1M94.5 166.5h1.1M72.0 163.0h1.1M105.5 207.0h1.1M89.0 155.0h1.1M72.5 138.5h1.1M87.5 159.0h1.1M60.5 158.5h1.1M55.5 160.0h1.1M112.0 191.0h1.1M100.0 108.5h1.1M80.5 79.0h1.1M60.0 85.5h1.1M69.0 101.0h1.1M90.5 92.0h1.1M85.0 90.5h1.1M84.5 65.5h1.1M81.0 95.5h1.1M80.0 79.0h1.1M85.5 125.5h1.1M78.5 83.5h1.1M114.5 100.5h1.1M76.0 109.5h1.1M78.5 119.5h1.1M68.0 92.0h1.1M59.5 95.0h1.1M70.5 70.0h1.1M100.5 56.0h1.1M81.5 79.5h1.1M111.0 101.0h1.1M102.0 105.5h1.1M93.5 116.0h1.1M74.0 94.0h1.1M76.0 122.5h1.1M81.0 95.5h1.1M99.5 81.0h1.1M50.5 88.5h1.1M93.5 92.5h1.1M70.0 113.0h1.1M74.5 106.0h1.1M75.5 96.0h1.1M96.5 107.0h1.1M84.0 108.5h1.1M83.0 74.0h1.1M72.0 110.0h1.1M80.0 90.5h1.1M71.0 84.0h1.1M80.5 79.5h1.1M61.0 78.5h1.1M96.5 104.0h1.1M106.0 87.0h1.1M62.0 108.0h1.1M69.5 101.5h1.1M76.0 86.0h1.1M76.5 96.0h1.1M66.5 124.5h1.1M70.0 111.0h1.1M91.0 130.5h1.1M94.5 137.5h1.1M76.5 90.5h1.1M64.5 107.0h1.1M91.0 108.5h1.1M78.0 90.0h1.1M88.0 111.5h1.1M97.0 93.5h1.1M93.0 114.0h1.1M94.0 92.5h1.1M90.0 101.5h1.1M91.0 90.0h1.1M54.0 49.5h1.1M70.5 83.0h1.1M76.5 98.0h1.1M74.5 75.5h1.1M92.0 75.5h1.1M57.5 77.5h1.1M59.0 52.5h1.1M84.5 72.0h1.1M79.5 88.5h1.1M70.0 58.0h1.1M75.0 72.5h1.1M68.5 93.0h1.1M74.0 92.5h1.1M72.5 80.5h1.1M88.0 117.5h1.1M73.5 112.5h1.1M94.0 111.5h1.1M85.5 88.5h1.1M78.5 123.0h1.1M102.5 93.0h1.1M88.5 73.5h1.1M66.0 107.0h1.1M102.5 58.5h1.1M68.5 92.0h1.1M92.0 93.0h1.1M97.0 81.0h1.1M78.5 79.5h1.1M73.0 70.0h1.1M70.5 69.0h1.1M113.5 119.5h1.1M102.5 115.0h1.1M78.5 60.5h1.1M94.0 79.5h1.1M84.5 88.0h1.1M85.5 94.0h1.1M75.5 111.0h1.1M103.0 91.0h1.1M105.0 78.5h1.1M85.5 109.0h1.1M76.0 90.0h1.1M78.0 95.5h1.1M48.5 97.5h1.1M76.0 98.5h1.1M75.0 116.5h1.1M68.0 66.5h1.1M66.5 99.5h1.1M68.0 93.5h1.1M72.5 57.5h1.1M65.5 68.0h1.1M73.0 83.5h1.1M114.0 91.0h1.1M79.5 138.0h1.1M75.0 94.5h1.1M81.0 86.5h1.1M64.5 106.0h1.1M90.0 95.0h1.1M80.0 79.5h1.1M81.0 88.0h1.1M65.0 90.5h1.1M56.5 61.5h1.1M69.0 62.5h1.1M73.0 93.0h1.1M97.0 87.0h1.1M82.0 95.0h1.1M76.0 102.5h1.1M69.0 120.0h1.1M77.5 103.5h1.1M98.5 55.5h1.1M105.5 110.0h1.1M74.5 92.5h1.1M59.0 64.5h1.1M89.5 85.5h1.1M106.0 82.5h1.1M75.5 86.0h1.1M73.5 82.5h1.1M62.0 82.0h1.1M75.5 97.5h1.1M74.5 92.5h1.1M56.0 80.5h1.1M77.0 60.5h1.1M79.5 74.5h1.1M79.5 92.5h1.1M63.0 98.0h1.1M71.5 130.5h1.1M75.5 102.5h1.1M84.0 73.0h1.1M75.5 70.5h1.1M96.5 77.5h1.1M75.0 88.5h1.1M102.0 64.5h1.1M95.5 119.0h1.1M49.0 61.0h1.1M89.5 68.0h1.1M87.5 95.5h1.1M86.0 91.0h1.1M100.0 76.5h1.1M67.0 103.0h1.1M93.5 75.5h1.1M83.5 84.5h1.1M63.0 104.5h1.1M87.0 120.5h1.1M86.5 80.5h1.1M88.5 76.0h1.1M106.0 85.5h1.1M68.5 118.5h1.1M49.0 88.5h1.1M92.0 118.0h1.1M82.0 102.0h1.1M76.5 86.5h1.1M80.5 110.0h1.1M90.0 92.5h1.1M54.5 77.5h1.1M101.5 96.5h1.1M101.5 116.5h1.1M76.5 68.5h1.1M97.5 81.5h1.1M94.5 97.0h1.1M89.5 74.0h1.1M93.0 84.0h1.1M91.5 83.0h1.1M88.0 116.0h1.1M88.0 106.0h1.1M74.5 89.0h1.1M83.0 112.0h1.1M72.5 86.0h1.1M74.0 89.5h1.1M83.0 86.5h1.1M72.5 87.0h1.1M87.5 111.5h1.1M90.5 107.0h1.1M85.0 80.0h1.1M88.5 110.0h1.1M67.5 110.0h1.1M87.5 88.0h1.1M55.0 78.0h1.1M96.0 99.0h1.1M78.5 86.0h1.1M66.0 97.5h1.1M87.5 96.0h1.1M79.5 88.5h1.1M103.0 86.0h1.1M84.5 98.0h1.1M96.5 89.0h1.1M79.5 68.5h1.1M98.0 105.5h1.1M75.5 69.0h1.1M73.5 64.0h1.1M77.5 58.0h1.1M66.5 122.5h1.1M60.0 57.5h1.1M70.0 97.5h1.1M72.0 102.5h1.1M82.0 88.0h1.1M71.0 99.0h1.1M98.0 74.5h1.1M93.0 69.5h1.1M77.0 75.5h1.1M102.0 104.0h1.1M98.0 131.0h1.1M54.0 114.5h1.1M66.0 106.5h1.1M73.0 77.0h1.1M69.5 96.5h1.1M62.0 117.0h1.1M77.0 103.0h1.1M91.5 88.5h1.1M55.0 78.5h1.1M63.5 97.0h1.1M65.5 104.0h1.1M71.5 110.5h1.1M69.5 95.0h1.1M89.5 79.0h1.1M104.0 117.5h1.1M74.0 70.5h1.1M64.0 93.5h1.1M89.5 65.0h1.1M87.5 85.0h1.1M77.5 80.5h1.1M81.0 85.0h1.1M70.5 92.5h1.1M67.5 108.5h1.1M68.0 104.5h1.1M70.5 100.0h1.1M59.0 85.5h1.1M83.5 65.0h1.1M47.5 114.0h1.1M66.0 105.0h1.1M80.0 105.0h1.1M69.0 78.5h1.1M77.0 117.5h1.1M92.5 53.5h1.1M94.5 93.5h1.1M98.0 92.0h1.1M74.5 86.5h1.1M97.0 89.0h1.1M75.5 113.5h1.1M82.0 108.5h1.1M78.0 113.5h1.1M67.5 107.0h1.1M70.5 109.5h1.1M96.0 78.0h1.1M75.0 108.0h1.1M94.0 95.0h1.1M87.0 74.0h1.1M74.0 83.5h1.1M85.5 98.0h1.1M77.0 101.0h1.1M101.5 74.0h1.1M116.0 89.5h1.1M91.5 101.0h1.1M69.0 105.0h1.1M85.5 78.0h1.1M53.5 79.0h1.1M91.5 77.5h1.1M62.0 87.5h1.1M84.0 113.0h1.1M64.0 54.5h1.1M70.0 99.0h1.1M53.0 101.0h1.1M97.5 84.5h1.1M68.0 90.0h1.1M84.5 81.0h1.1M66.0 84.5h1.1M70.5 99.0h1.1M68.0 104.0h1.1M86.0 120.0h1.1M82.0 46.0h1.1M67.0 95.5h1.1M78.5 65.0h1.1M60.0 81.5h1.1M78.0 58.5h1.1M76.5 58.0h1.1M66.5 85.0h1.1M64.5 100.5h1.1M62.5 97.5h1.1M100.0 99.5h1.1M112.5 64.5h1.1M83.5 90.5h1.1M83.5 103.5h1.1M87.0 89.5h1.1M53.0 90.5h1.1M87.0 90.0h1.1M83.5 91.0h1.1M72.5 73.5h1.1M98.0 96.0h1.1M90.0 109.0h1.1M96.0 104.5h1.1M80.0 75.5h1.1M72.5 90.0h1.1M93.0 100.0h1.1M84.0 73.0h1.1M82.5 103.5h1.1M74.0 95.0h1.1M79.5 80.5h1.1M58.5 92.0h1.1M82.0 66.0h1.1M59.5 105.5h1.1M91.0 91.5h1.1M94.0 91.5h1.1M70.5 92.0h1.1M96.0 79.0h1.1M82.0 88.5h1.1M93.5 81.0h1.1M82.5 79.0h1.1M80.5 109.0h1.1M91.5 71.5h1.1M98.0 92.0h1.1M63.0 84.5h1.1M71.5 121.5h1.1M81.0 103.5h1.1M80.5 90.5h1.1M94.5 57.5h1.1M88.5 49.5h1.1M69.0 20.5h1.1M46.5 60.5h1.1M98.5 88.5h1.1M81.5 108.0h1.1M71.0 71.5h1.1M55.5 126.5h1.1M72.5 99.5h1.1M61.0 83.0h1.1M53.5 52.0h1.1M100.5 78.0h1.1M68.0 80.5h1.1M77.0 98.5h1.1M67.0 68.5h1.1M62.0 94.5h1.1M70.5 103.5h1.1M84.0 110.0h1.1M96.0 61.5h1.1M78.5 58.0h1.1M99.5 88.5h1.1M78.0 94.0h1.1M72.0 88.5h1.1M80.5 66.5h1.1M120.0 70.5h1.1M96.5 84.5h1.1M109.5 76.0h1.1M75.5 85.5h1.1M79.5 88.5h1.1M82.0 36.0h1.1M80.0 97.5h1.1M44.5 81.5h1.1M60.0 98.0h1.1M81.5 70.5h1.1M87.5 51.0h1.1M61.5 95.0h1.1M62.5 103.5h1.1M67.0 99.5h1.1M91.5 105.0h1.1M119.5 129.0h1.1M94.0 117.5h1.1M70.0 109.0h1.1M79.0 67.5h1.1M71.0 95.5h1.1M63.0 119.0h1.1M65.0 123.5h1.1M78.0 117.0h1.1M90.0 112.0h1.1M71.5 123.0h1.1M89.0 123.5h1.1M60.0 115.0h1.1M58.5 114.0h1.1M71.0 123.0h1.1M69.5 113.5h1.1M66.5 124.0h1.1M60.0 125.0h1.1M71.0 134.0h1.1M74.0 110.5h1.1M94.0 131.0h1.1M110.5 114.5h1.1M54.0 127.5h1.1M108.0 132.5h1.1M81.0 127.0h1.1M98.0 113.5h1.1M69.0 113.5h1.1M85.0 132.0h1.1M93.5 125.0h1.1M49.5 127.0h1.1M78.0 117.5h1.1M84.5 133.0h1.1M86.0 120.0h1.1M57.0 124.0h1.1M65.0 111.0h1.1M74.0 112.5h1.1M58.0 130.0h1.1M72.0 119.5h1.1M95.5 110.5h1.1M75.0 110.5h1.1M73.0 122.5h1.1M84.0 118.5h1.1M101.5 113.0h1.1M66.0 122.5h1.1M73.5 122.5h1.1M65.5 130.5h1.1M93.0 128.0h1.1M80.0 121.0h1.1M79.5 116.0h1.1M50.5 119.0h1.1M96.0 118.0h1.1M70.0 125.5h1.1M108.5 113.0h1.1M78.5 117.0h1.1M114.5 130.0h1.1M76.0 124.5h1.1M68.5 125.0h1.1M70.0 130.5h1.1M89.5 124.5h1.1M99.5 125.5h1.1M92.0 116.5h1.1M95.0 116.5h1.1M95.0 111.0h1.1M49.0 124.0h1.1M72.5 125.0h1.1M74.0 126.0h1.1M76.0 115.5h1.1M76.0 132.5h1.1M62.0 113.5h1.1M85.5 118.5h1.1M90.5 128.5h1.1M95.0 119.0h1.1M45.0 123.0h1.1M96.5 127.5h1.1M142.0 113.5h1.1M152.0 148.5h1.1M131.5 167.0h1.1M168.0 163.5h1.1M145.0 132.0h1.1M129.5 159.5h1.1M156.5 168.5h1.1M172.5 156.5h1.1M156.0 148.5h1.1M158.0 151.0h1.1M184.5 156.5h1.1M161.0 172.5h1.1M187.5 142.5h1.1M170.0 155.0h1.1M143.5 159.5h1.1M165.5 183.5h1.1M141.0 163.5h1.1M197.0 154.0h1.1M131.5 136.5h1.1M177.0 147.5h1.1M149.0 163.5h1.1M202.5 139.5h1.1M129.0 169.5h1.1M142.0 174.0h1.1M174.0 135.0h1.1M132.0 150.0h1.1M176.5 156.0h1.1M186.5 138.5h1.1M144.0 158.5h1.1M165.0 184.5h1.1M155.5 141.0h1.1M167.5 160.5h1.1M210.5 148.5h1.1M178.5 178.0h1.1M183.5 169.5h1.1M156.5 169.0h1.1M135.0 149.5h1.1M136.0 144.5h1.1M144.5 136.0h1.1M166.5 138.0h1.1M138.5 149.5h1.1M174.5 155.5h1.1M158.0 172.5h1.1M96.5 151.0h1.1M135.5 181.0h1.1M145.0 147.5h1.1M160.5 165.0h1.1M145.0 157.5h1.1M130.0 172.0h1.1M176.0 178.5h1.1M157.5 168.0h1.1M135.5 199.5h1.1M143.0 176.0h1.1M140.0 162.0h1.1M166.0 148.5h1.1M167.0 183.5h1.1M187.5 154.0h1.1M174.5 186.0h1.1M181.5 115.5h1.1M170.5 138.5h1.1M149.0 157.5h1.1M159.0 147.5h1.1M163.5 155.5h1.1M142.5 184.0h1.1M160.0 111.0h1.1M141.0 150.0h1.1M186.5 173.5h1.1M128.0 153.5h1.1M159.5 177.5h1.1M190.0 146.5h1.1M160.0 187.5h1.1M185.0 138.0h1.1M176.5 128.5h1.1M140.0 180.0h1.1M177.5 152.0h1.1M159.5 170.0h1.1M180.5 155.5h1.1M177.5 183.0h1.1M161.5 152.0h1.1M180.5 193.5h1.1M156.5 173.5h1.1M160.5 163.5h1.1M168.5 145.0h1.1M165.5 162.0h1.1M178.0 133.0h1.1M161.5 176.5h1.1M195.5 142.5h1.1M203.5 168.5h1.1M152.5 164.0h1.1M158.5 189.5h1.1M125.0 103.0h1.1M117.5 77.0h1.1M116.5 141.0h1.1M120.5 99.5h1.1M119.5 81.5h1.1M112.5 86.5h1.1M126.0 153.0h1.1M107.0 122.0h1.1M120.5 79.0h1.1M119.0 107.5h1.1M123.5 174.5h1.1M121.5 142.0h1.1M111.0 161.5h1.1M114.5 106.0h1.1M119.0 156.0h1.1M107.5 100.0h1.1M137.5 97.0h1.1M150.5 86.5h1.1M190.0 86.5h1.1M144.0 107.0h1.1M127.5 109.5h1.1M41.5 75.5h1.1M41.5 187.0h1.1M41.5 173.5h1.1M41.5 88.0h1.1M41.5 135.0h1.1M41.5 155.0h1.1M41.5 178.5h1.1M41.5 174.0h1.1M41.5 179.5h1.1M41.5 166.0h1.1M41.5 144.0h1.1M41.5 138.0h1.1M41.5 164.5h1.1M41.5 171.5h1.1M41.5 157.5h1.1M41.5 170.5h1.1M41.5 84.5h1.1M41.5 112.0h1.1M41.5 87.0h1.1M41.5 175.0h1.1M41.5 148.5h1.1M41.5 148.0h1.1M41.5 191.5h1.1M41.5 65.5h1.1M41.5 166.5h1.1M41.5 142.0h1.1M41.5 145.0h1.1M41.5 169.0h1.1M41.5 113.5h1.1M41.5 133.5h1.1M41.5 74.0h1.1M41.5 146.0h1.1M41.5 141.0h1.1M41.5 166.0h1.1M41.5 149.5h1.1M41.5 87.5h1.1M41.5 72.5h1.1M41.5 169.5h1.1M41.5 122.0h1.1M41.5 158.5h1.1M41.5 151.5h1.1M41.5 147.0h1.1M41.5 169.0h1.1M41.5 108.5h1.1M41.5 85.5h1.1" stroke="#2a2a2a" stroke-width="1.1" fill="none"/>
<rect x="45.1" y="42.7" width="65.4" height="82.7" fill="none" stroke="#333" stroke-width="1.25" rx="1.2"/>
<rect x="45.3" y="130.6" width="65.9" height="78.0" fill="none" stroke="#333" stroke-width="1.25" rx="1.2"/>
<rect x="124.3" y="42.6" width="88.8" height="83.0" fill="none" stroke="#333" stroke-width="1.25" rx="1.2"/>
<rect x="125.0" y="131.4" width="88.1" height="77.2" fill="none" stroke="#333" stroke-width="1.25" rx="1.2"/>
<text x="128" y="58" font-size="12" fill="#111">0.1</text>
<text x="128" y="146.5" font-size="12" fill="#111">4.7</text>
<rect x="41.10" y="9.00" width="200.60" height="200.60" fill="none" stroke="#222" stroke-width="1"/>
<line x1="41.10" y1="209.60" x2="41.10" y2="214.60" stroke="#222" stroke-width="1"/>
<line x1="56.20" y1="209.60" x2="56.20" y2="212.10" stroke="#222" stroke-width="1"/>
<line x1="65.03" y1="209.60" x2="65.03" y2="212.10" stroke="#222" stroke-width="1"/>
<line x1="71.29" y1="209.60" x2="71.29" y2="212.10" stroke="#222" stroke-width="1"/>
<line x1="76.15" y1="209.60" x2="76.15" y2="212.10" stroke="#222" stroke-width="1"/>
<line x1="80.12" y1="209.60" x2="80.12" y2="212.10" stroke="#222" stroke-width="1"/>
<line x1="83.48" y1="209.60" x2="83.48" y2="212.10" stroke="#222" stroke-width="1"/>
<line x1="86.39" y1="209.60" x2="86.39" y2="212.10" stroke="#222" stroke-width="1"/>
<line x1="88.96" y1="209.60" x2="88.96" y2="212.10" stroke="#222" stroke-width="1"/>
<line x1="91.25" y1="209.60" x2="91.25" y2="214.60" stroke="#222" stroke-width="1"/>
<line x1="106.35" y1="209.60" x2="106.35" y2="212.10" stroke="#222" stroke-width="1"/>
<line x1="115.18" y1="209.60" x2="115.18" y2="212.10" stroke="#222" stroke-width="1"/>
<line x1="121.44" y1="209.60" x2="121.44" y2="212.10" stroke="#222" stroke-width="1"/>
<line x1="126.30" y1="209.60" x2="126.30" y2="212.10" stroke="#222" stroke-width="1"/>
<line x1="130.27" y1="209.60" x2="130.27" y2="212.10" stroke="#222" stroke-width="1"/>
<line x1="133.63" y1="209.60" x2="133.63" y2="212.10" stroke="#222" stroke-width="1"/>
<line x1="136.54" y1="209.60" x2="136.54" y2="212.10" stroke="#222" stroke-width="1"/>
<line x1="139.11" y1="209.60" x2="139.11" y2="212.10" stroke="#222" stroke-width="1"/>
<line x1="141.40" y1="209.60" x2="141.40" y2="214.60" stroke="#222" stroke-width="1"/>
<line x1="156.50" y1="209.60" x2="156.50" y2="212.10" stroke="#222" stroke-width="1"/>
<line x1="165.33" y1="209.60" x2="165.33" y2="212.10" stroke="#222" stroke-width="1"/>
<line x1="171.59" y1="209.60" x2="171.59" y2="212.10" stroke="#222" stroke-width="1"/>
<line x1="176.45" y1="209.60" x2="176.45" y2="212.10" stroke="#222" stroke-width="1"/>
<line x1="180.42" y1="209.60" x2="180.42" y2="212.10" stroke="#222" stroke-width="1"/>
<line x1="183.78" y1="209.60" x2="183.78" y2="212.10" stroke="#222" stroke-width="1"/>
<line x1="186.69" y1="209.60" x2="186.69" y2="212.10" stroke="#222" stroke-width="1"/>
<line x1="189.26" y1="209.60" x2="189.26" y2="212.10" stroke="#222" stroke-width="1"/>
<line x1="191.55" y1="209.60" x2="191.55" y2="214.60" stroke="#222" stroke-width="1"/>
<line x1="206.65" y1="209.60" x2="206.65" y2="212.10" stroke="#222" stroke-width="1"/>
<line x1="215.48" y1="209.60" x2="215.48" y2="212.10" stroke="#222" stroke-width="1"/>
<line x1="221.74" y1="209.60" x2="221.74" y2="212.10" stroke="#222" stroke-width="1"/>
<line x1="226.60" y1="209.60" x2="226.60" y2="212.10" stroke="#222" stroke-width="1"/>
<line x1="230.57" y1="209.60" x2="230.57" y2="212.10" stroke="#222" stroke-width="1"/>
<line x1="233.93" y1="209.60" x2="233.93" y2="212.10" stroke="#222" stroke-width="1"/>
<line x1="236.84" y1="209.60" x2="236.84" y2="212.10" stroke="#222" stroke-width="1"/>
<line x1="239.41" y1="209.60" x2="239.41" y2="212.10" stroke="#222" stroke-width="1"/>
<line x1="241.70" y1="209.60" x2="241.70" y2="214.60" stroke="#222" stroke-width="1"/>
<text transform="translate(45.0 229.3) scale(0.90 1)" font-size="10.3" text-anchor="end" fill="#111">10</text>
<text transform="translate(45.2 225.0) scale(0.90 1)" font-size="8" text-anchor="start" fill="#111">0</text>
<text transform="translate(95.2 229.3) scale(0.90 1)" font-size="10.3" text-anchor="end" fill="#111">10</text>
<text transform="translate(95.4 225.0) scale(0.90 1)" font-size="8" text-anchor="start" fill="#111">1</text>
<text transform="translate(145.3 229.3) scale(0.90 1)" font-size="10.3" text-anchor="end" fill="#111">10</text>
<text transform="translate(145.5 225.0) scale(0.90 1)" font-size="8" text-anchor="start" fill="#111">2</text>
<text transform="translate(195.4 229.3) scale(0.90 1)" font-size="10.3" text-anchor="end" fill="#111">10</text>
<text transform="translate(195.6 225.0) scale(0.90 1)" font-size="8" text-anchor="start" fill="#111">3</text>
<text transform="translate(245.6 229.3) scale(0.90 1)" font-size="10.3" text-anchor="end" fill="#111">10</text>
<text transform="translate(245.8 225.0) scale(0.90 1)" font-size="8" text-anchor="start" fill="#111">4</text>
<line x1="36.10" y1="209.60" x2="41.10" y2="209.60" stroke="#222" stroke-width="1"/>
<line x1="38.60" y1="194.50" x2="41.10" y2="194.50" stroke="#222" stroke-width="1"/>
<line x1="38.60" y1="185.67" x2="41.10" y2="185.67" stroke="#222" stroke-width="1"/>
<line x1="38.60" y1="179.41" x2="41.10" y2="179.41" stroke="#222" stroke-width="1"/>
<line x1="38.60" y1="174.55" x2="41.10" y2="174.55" stroke="#222" stroke-width="1"/>
<line x1="38.60" y1="170.58" x2="41.10" y2="170.58" stroke="#222" stroke-width="1"/>
<line x1="38.60" y1="167.22" x2="41.10" y2="167.22" stroke="#222" stroke-width="1"/>
<line x1="38.60" y1="164.31" x2="41.10" y2="164.31" stroke="#222" stroke-width="1"/>
<line x1="38.60" y1="161.74" x2="41.10" y2="161.74" stroke="#222" stroke-width="1"/>
<line x1="36.10" y1="159.45" x2="41.10" y2="159.45" stroke="#222" stroke-width="1"/>
<line x1="38.60" y1="144.35" x2="41.10" y2="144.35" stroke="#222" stroke-width="1"/>
<line x1="38.60" y1="135.52" x2="41.10" y2="135.52" stroke="#222" stroke-width="1"/>
<line x1="38.60" y1="129.26" x2="41.10" y2="129.26" stroke="#222" stroke-width="1"/>
<line x1="38.60" y1="124.40" x2="41.10" y2="124.40" stroke="#222" stroke-width="1"/>
<line x1="38.60" y1="120.43" x2="41.10" y2="120.43" stroke="#222" stroke-width="1"/>
<line x1="38.60" y1="117.07" x2="41.10" y2="117.07" stroke="#222" stroke-width="1"/>
<line x1="38.60" y1="114.16" x2="41.10" y2="114.16" stroke="#222" stroke-width="1"/>
<line x1="38.60" y1="111.59" x2="41.10" y2="111.59" stroke="#222" stroke-width="1"/>
<line x1="36.10" y1="109.30" x2="41.10" y2="109.30" stroke="#222" stroke-width="1"/>
<line x1="38.60" y1="94.20" x2="41.10" y2="94.20" stroke="#222" stroke-width="1"/>
<line x1="38.60" y1="85.37" x2="41.10" y2="85.37" stroke="#222" stroke-width="1"/>
<line x1="38.60" y1="79.11" x2="41.10" y2="79.11" stroke="#222" stroke-width="1"/>
<line x1="38.60" y1="74.25" x2="41.10" y2="74.25" stroke="#222" stroke-width="1"/>
<line x1="38.60" y1="70.28" x2="41.10" y2="70.28" stroke="#222" stroke-width="1"/>
<line x1="38.60" y1="66.92" x2="41.10" y2="66.92" stroke="#222" stroke-width="1"/>
<line x1="38.60" y1="64.01" x2="41.10" y2="64.01" stroke="#222" stroke-width="1"/>
<line x1="38.60" y1="61.44" x2="41.10" y2="61.44" stroke="#222" stroke-width="1"/>
<line x1="36.10" y1="59.15" x2="41.10" y2="59.15" stroke="#222" stroke-width="1"/>
<line x1="38.60" y1="44.05" x2="41.10" y2="44.05" stroke="#222" stroke-width="1"/>
<line x1="38.60" y1="35.22" x2="41.10" y2="35.22" stroke="#222" stroke-width="1"/>
<line x1="38.60" y1="28.96" x2="41.10" y2="28.96" stroke="#222" stroke-width="1"/>
<line x1="38.60" y1="24.10" x2="41.10" y2="24.10" stroke="#222" stroke-width="1"/>
<line x1="38.60" y1="20.13" x2="41.10" y2="20.13" stroke="#222" stroke-width="1"/>
<line x1="38.60" y1="16.77" x2="41.10" y2="16.77" stroke="#222" stroke-width="1"/>
<line x1="38.60" y1="13.86" x2="41.10" y2="13.86" stroke="#222" stroke-width="1"/>
<line x1="38.60" y1="11.29" x2="41.10" y2="11.29" stroke="#222" stroke-width="1"/>
<line x1="36.10" y1="9.00" x2="41.10" y2="9.00" stroke="#222" stroke-width="1"/>
<text transform="translate(26.7 212.7) scale(0.84 1)" font-size="9.8" text-anchor="end" fill="#111">10</text>
<text transform="translate(26.9 208.5) scale(0.90 1)" font-size="7.6" text-anchor="start" fill="#111">0</text>
<text transform="translate(26.7 162.5) scale(0.84 1)" font-size="9.8" text-anchor="end" fill="#111">10</text>
<text transform="translate(26.9 158.3) scale(0.90 1)" font-size="7.6" text-anchor="start" fill="#111">1</text>
<text transform="translate(26.7 112.4) scale(0.84 1)" font-size="9.8" text-anchor="end" fill="#111">10</text>
<text transform="translate(26.9 108.2) scale(0.90 1)" font-size="7.6" text-anchor="start" fill="#111">2</text>
<text transform="translate(26.7 62.3) scale(0.84 1)" font-size="9.8" text-anchor="end" fill="#111">10</text>
<text transform="translate(26.9 58.1) scale(0.90 1)" font-size="7.6" text-anchor="start" fill="#111">3</text>
<text transform="translate(26.7 12.1) scale(0.84 1)" font-size="9.8" text-anchor="end" fill="#111">10</text>
<text transform="translate(26.9 7.9) scale(0.90 1)" font-size="7.6" text-anchor="start" fill="#111">4</text>
<text transform="translate(11.8 110.8) rotate(-90)" font-size="13.2"  text-anchor="middle" fill="#111">CD27 APC</text>
<text x="141.8" y="240.5" font-size="12" text-anchor="middle" fill="#111">G6 + anti-IgM FITC</text>
<text x="45.9" y="31.1" font-size="25" font-weight="bold" fill="#000">A</text>
<g clip-path="url(#clipB)">
<path d="M311 210.4V191.4H312V191.7H313V191.9H314V190.1H315V189.9H316V189.9H317V189.2H318V187.6H319V186.4H320V188.0H321V186.2H322V184.5H323V185.6H324V184.0H325V179.1H326V174.3H327V169.6H328V164.9H329V175.1H330V173.4H331V171.7H332V164.4H333V156.2H334V151.1H335V150.3H336V144.4H337V141.0H338V138.4H339V143.2H340V137.8H341V131.8H342V123.6H343V113.3H344V109.2H345V99.1H346V95.2H347V100.8H348V102.6H349V92.6H350V87.3H351V83.7H352V55.4H353V63.3H354V65.0H355V55.5H356V42.8H357V38.8H358V34.3H359V29.2H360V38.0H361V37.6H362V30.1H363V31.6H364V26.6H365V29.8H366V30.5H367V35.7H368V45.2H369V47.4H370V54.6H371V63.1H372V62.1H373V81.9H374V92.6H375V101.8H376V117.6H377V123.2H378V124.8H379V131.4H380V135.7H381V141.9H382V149.9H383V150.9H384V153.1H385V157.0H386V161.0H387V165.4H388V163.2H389V168.5H390V169.8H391V170.8H392V171.8H393V171.2H394V173.3H395V171.6H396V168.6H397V172.3H398V171.2H399V172.4H400V172.0H401V171.7H402V173.2H403V171.5H404V173.2H405V173.1H406V169.8H407V172.9H408V171.1H409V173.3H410V174.0H411V175.5H412V175.5H413V180.7H414V180.5H415V179.3H416V181.8H417V182.7H418V185.0H419V185.2H420V188.9H421V189.4H422V191.2H423V194.2H424V195.3H425V196.8H426V198.6H427V200.2H428V200.8H429V201.2H430V202.3H431V203.2H432V204.1H433V204.5H434V205.0H435V205.9H436V206.7H437V207.3H438V208.0H439V208.7H440V209.1H441V209.4H442V209.7H443V209.9H444V210.2H445V210.3H446V210.3H447V210.3H448V210.3H449V210.3H450V210.3H451V210.3H452V210.3H453V210.3H454V210.3H455V210.3H456V210.3H457V210.3H458V210.3H459V210.3H460V210.3H461V210.3H462V210.3H463V210.3H464V210.3H465V210.3H466V210.3H467V210.3H468V210.3H469V210.3H470V210.3H471V210.3H472V210.3H473V210.3H474V210.3H475V210.3H476V210.3H477V210.3H478V210.3H479V210.3H480V210.3H481V210.3H482V210.3H483V210.3H484V210.3H485V210.3H486V210.3H487V210.3H488V210.3H489V210.3H490V210.3H491V210.3H492V210.3H493V210.3H494V210.3H495V210.3H496V210.3H497V210.3H498V210.3H499V210.3H500V210.3H501V210.3H502V210.3H503V210.3H504V210.3H505V210.3H506V210.3H507V210.3H508V210.3H509V210.3H510V210.4Z" fill="#8c8c8c" stroke="none"/>
<path d="M312.5 187.0L313.7 185.6L317.0 176.0L322.0 166.0L326.0 158.0L327.2 155.5L329.5 146.0L332.7 126.9L334.3 133.3L335.9 134.9L338.3 130.1L340.7 117.4L342.2 107.9L343.8 100.0L345.4 95.4L346.9 82.0L348.3 66.5L351.2 60.8L352.0 47.3L354.0 37.7L356.5 24.0L359.8 34.0L362.5 47.0L364.0 60.0L366.0 75.0L368.0 95.0L370.0 115.0L372.5 132.5L375.5 147.5L379.0 165.0L382.5 176.0L386.0 174.0L390.0 186.0L395.0 194.0L400.0 199.0L405.0 200.0L410.0 191.0L415.0 199.0L422.5 197.5L427.5 199.0L434.0 204.0L440.0 202.5L446.0 199.0L452.5 198.0L456.0 197.0L460.0 201.0L465.0 205.0L470.0 207.0L477.5 207.5L485.0 209.5L495.0 210.2L510.0 210.3" fill="none" stroke="#000" stroke-width="1.15" stroke-linejoin="round"/>
<path d="M312.0 170.0L313.8 155.0L316.0 137.5L320.0 122.5L322.5 113.0L324.2 108.8L326.2 95.4L329.0 78.0L331.0 66.5L333.8 58.8L335.8 62.7L338.7 55.0L340.6 35.8L342.5 30.0L344.4 28.0L346.3 43.5L348.3 30.0L351.2 20.4L352.7 43.5L354.0 66.5L355.4 91.5L356.5 108.8L357.0 113.0L358.8 135.0L361.0 155.0L363.8 172.5L366.0 187.5L370.0 200.0L374.0 206.0L380.0 209.0L390.0 210.0L510.5 210.3" fill="none" stroke="#000" stroke-width="1.3" stroke-dasharray="2.2 1.6" stroke-linejoin="round"/>
<line x1="311.85" y1="11.00" x2="311.85" y2="210.40" stroke="#000" stroke-width="1.9"/>
<path d="M312.0 210.5L312.0 208.9L312.0 207.3L312.0 205.7L312.0 204.1L312.0 202.5L312.0 200.9L312.0 199.3L312.0 197.7L312.0 196.1L312.0 194.5L312.0 192.9L312.0 191.2L312.0 189.6L312.0 188.0L312.0 186.4L312.0 184.8L312.0 183.2L312.0 181.6L312.0 180.0L312.0 178.4L312.0 176.8L312.0 175.2L312.0 173.6L312.0 172.0L312.0 170.4L312.0 168.8L312.0 167.2L312.0 165.6L312.0 164.0L312.0 162.4L312.0 160.8L312.0 159.2L312.0 157.6L312.0 156.0L312.0 154.4L312.0 152.8L312.0 151.1L312.0 149.5L312.0 147.9L312.0 146.3L312.0 144.7L312.0 143.1L312.0 141.5L312.0 139.9L312.0 138.3L312.0 136.7L312.0 135.1L312.0 133.5L312.0 131.9L312.0 130.3L312.0 128.7L312.0 127.1L312.0 125.5L312.0 123.9L312.0 122.3L312.0 120.7L312.0 119.1L312.0 117.5L312.0 115.9L312.0 114.2L312.0 112.6L312.0 111.0L312.0 109.4L312.0 107.8L312.0 106.2L312.0 104.6L312.0 103.0L312.0 101.4L312.0 99.8L312.0 98.2L312.0 96.6L312.0 95.0L312.0 96.6L312.0 98.2L312.0 99.8L312.0 101.4L312.0 103.0L312.0 104.6L312.0 106.2L312.0 107.8L312.0 109.4L312.1 111.0L312.1 112.6L312.1 114.2L312.1 115.8L312.1 117.4L312.1 119.0L312.1 120.6L312.1 122.2L312.1 123.8L312.1 125.4L312.1 127.0L312.1 128.6L312.1 130.2L312.1 131.8L312.1 133.4L312.1 135.0L312.1 136.6L312.1 138.2L312.2 139.8L312.2 141.4L312.2 143.0L312.2 144.6L312.2 146.2L312.2 147.8L312.2 149.4L312.2 151.0L312.2 152.6L312.2 154.2L312.2 155.8L312.2 157.4L312.2 159.0L312.2 160.6L312.2 162.2L312.2 163.8L312.2 165.4L312.2 167.0L312.3 168.6L312.3 170.2L312.3 171.8L312.3 173.4L312.3 175.0L312.3 176.6L312.3 178.2L312.3 179.8L312.3 181.4L312.3 183.0L313.0 181.1L314.0 179.3L314.5 176.9L315.1 176.4L315.6 174.4L316.0 172.8L317.0 171.8L317.7 169.7L318.3 168.5L319.1 165.9L320.1 165.0L321.1 163.3L322.0 161.6L322.9 159.6L324.0 158.2L324.3 156.7L325.0 155.3L325.1 153.7L325.7 152.1L326.2 151.0L326.3 149.2L328.9 146.8L329.0 145.6L329.3 144.2L330.0 143.1L329.8 140.6L330.4 139.5L330.1 137.8L330.5 137.2L330.9 134.9L331.1 133.8L331.8 131.1L332.2 130.6L332.5 128.6L333.2 126.9L333.2 125.9L333.6 123.8L333.8 122.4L334.7 120.9L334.7 118.7L335.4 116.9L336.1 115.5L336.1 113.9L336.4 113.2L336.9 110.5L337.7 110.0L337.4 107.5L337.7 106.2L338.5 104.1L338.9 102.1L338.8 100.7L339.2 99.1L339.6 96.7L339.4 95.2L339.9 93.6L339.8 92.5L340.1 89.7L340.6 88.7L340.5 87.3L341.1 85.4L341.2 83.4L341.4 81.5L341.6 80.2L342.1 78.5L341.9 76.3L342.5 74.7L342.6 73.8L343.3 71.2L343.0 70.1L343.2 68.9L344.5 67.3L344.9 65.1L344.9 63.3L345.7 62.2L346.0 61.1L346.4 59.3L347.1 56.8L347.1 56.0L347.5 53.7L347.5 51.7L347.6 50.1L347.7 48.9L347.9 47.0L348.7 45.7L349.0 43.5L349.3 42.3L349.7 40.1L349.9 38.4L350.6 37.5L351.0 35.4L351.8 33.6L352.2 33.2L352.7 30.9L353.4 29.0L353.8 27.1L354.3 26.0L355.3 24.6L355.8 22.9L356.6 21.4L357.2 22.5L357.9 24.9L358.5 27.0L358.4 28.8L358.9 30.6L360.1 31.4L360.3 33.2L360.9 35.5L361.4 36.6L361.3 38.5L361.5 40.2L362.2 41.6L362.4 43.2L363.3 45.0L363.2 46.6L363.8 48.8L363.5 49.7L363.8 51.3L364.8 53.1L364.7 55.3L364.8 56.7L365.0 58.3L365.4 60.6L366.0 61.8L366.0 63.3L366.1 65.3L366.8 66.5L366.6 68.4L367.4 71.1L367.4 72.6L367.3 74.3L367.6 75.0L367.9 77.7L368.8 78.5L368.9 80.1L368.6 82.1L369.5 84.3L369.6 85.6L369.8 86.9L370.2 88.4L369.9 90.4L370.1 91.9L370.7 94.0L371.4 96.1L371.1 96.7L371.9 99.4L371.8 100.5L372.1 102.1L372.1 103.4L372.5 105.9L372.8 107.8L373.2 108.5L373.7 110.1L373.7 112.2L374.2 113.3L374.4 116.0L374.4 117.6L374.9 118.5L375.1 120.3L374.6 121.9L375.0 124.0L375.2 125.1L375.2 126.6L375.8 127.9L375.6 129.9L376.8 130.9L376.8 133.0L377.7 135.0L378.3 136.1L378.5 138.3L379.3 139.5L379.5 140.9L380.4 143.1L381.2 144.1L381.4 146.4L382.3 147.0L383.0 149.8L384.3 150.8L385.2 153.1L385.6 154.5L386.6 155.2L387.3 156.8L388.1 158.7L388.9 160.2L389.3 161.7L389.8 164.0L391.7 164.9L394.3 165.9L396.2 165.7L396.8 167.5L398.2 168.5L398.8 169.4L399.9 170.9L401.6 169.8L403.3 168.4L405.0 168.1L406.4 167.6L408.2 168.9L409.9 168.3L412.0 168.7L413.0 168.2L414.9 167.4L415.6 169.4L417.2 171.3L417.6 171.8L418.9 173.7L420.2 174.7L421.7 177.0L423.0 178.4L424.2 178.3L425.0 181.0L426.7 181.7L427.8 184.1L428.8 184.5L430.0 186.4L430.1 188.6L431.4 188.8L432.0 190.9L432.2 192.1L433.1 194.0L434.2 195.7L434.6 196.2L435.4 198.7L436.3 199.7L437.6 201.2L438.8 202.0L439.8 202.8L441.7 204.0L442.4 204.4L444.1 205.8L445.9 206.4L446.8 207.9L448.4 207.9L450.0 209.0L451.7 209.1L453.3 209.2L455.0 209.3L456.7 209.4L458.3 209.6L460.0 209.7L461.7 209.8L463.3 209.9L465.0 210.0L466.6 210.0L468.2 210.0L469.9 210.0L471.5 210.0L473.1 210.1L474.8 210.1L476.4 210.1L478.0 210.1L479.6 210.1L481.2 210.1L482.9 210.1L484.5 210.1L486.1 210.1L487.8 210.2L489.4 210.2L491.0 210.2L492.6 210.2L494.2 210.2L495.9 210.2L497.5 210.2L499.1 210.2L500.8 210.2L502.4 210.2L504.0 210.3L505.6 210.3L507.2 210.3L508.9 210.3L510.5 210.3" fill="none" stroke="#000" stroke-width="3.05" stroke-linejoin="round"/>
</g>
<rect x="309.65" y="9.70" width="200.35" height="200.70" fill="none" stroke="#222" stroke-width="1"/>
<line x1="309.65" y1="210.40" x2="309.65" y2="215.40" stroke="#222" stroke-width="1"/>
<line x1="324.73" y1="210.40" x2="324.73" y2="212.90" stroke="#222" stroke-width="1"/>
<line x1="333.55" y1="210.40" x2="333.55" y2="212.90" stroke="#222" stroke-width="1"/>
<line x1="339.81" y1="210.40" x2="339.81" y2="212.90" stroke="#222" stroke-width="1"/>
<line x1="344.66" y1="210.40" x2="344.66" y2="212.90" stroke="#222" stroke-width="1"/>
<line x1="348.63" y1="210.40" x2="348.63" y2="212.90" stroke="#222" stroke-width="1"/>
<line x1="351.98" y1="210.40" x2="351.98" y2="212.90" stroke="#222" stroke-width="1"/>
<line x1="354.88" y1="210.40" x2="354.88" y2="212.90" stroke="#222" stroke-width="1"/>
<line x1="357.45" y1="210.40" x2="357.45" y2="212.90" stroke="#222" stroke-width="1"/>
<line x1="359.74" y1="210.40" x2="359.74" y2="215.40" stroke="#222" stroke-width="1"/>
<line x1="374.82" y1="210.40" x2="374.82" y2="212.90" stroke="#222" stroke-width="1"/>
<line x1="383.64" y1="210.40" x2="383.64" y2="212.90" stroke="#222" stroke-width="1"/>
<line x1="389.89" y1="210.40" x2="389.89" y2="212.90" stroke="#222" stroke-width="1"/>
<line x1="394.75" y1="210.40" x2="394.75" y2="212.90" stroke="#222" stroke-width="1"/>
<line x1="398.71" y1="210.40" x2="398.71" y2="212.90" stroke="#222" stroke-width="1"/>
<line x1="402.07" y1="210.40" x2="402.07" y2="212.90" stroke="#222" stroke-width="1"/>
<line x1="404.97" y1="210.40" x2="404.97" y2="212.90" stroke="#222" stroke-width="1"/>
<line x1="407.53" y1="210.40" x2="407.53" y2="212.90" stroke="#222" stroke-width="1"/>
<line x1="409.82" y1="210.40" x2="409.82" y2="215.40" stroke="#222" stroke-width="1"/>
<line x1="424.90" y1="210.40" x2="424.90" y2="212.90" stroke="#222" stroke-width="1"/>
<line x1="433.72" y1="210.40" x2="433.72" y2="212.90" stroke="#222" stroke-width="1"/>
<line x1="439.98" y1="210.40" x2="439.98" y2="212.90" stroke="#222" stroke-width="1"/>
<line x1="444.83" y1="210.40" x2="444.83" y2="212.90" stroke="#222" stroke-width="1"/>
<line x1="448.80" y1="210.40" x2="448.80" y2="212.90" stroke="#222" stroke-width="1"/>
<line x1="452.15" y1="210.40" x2="452.15" y2="212.90" stroke="#222" stroke-width="1"/>
<line x1="455.06" y1="210.40" x2="455.06" y2="212.90" stroke="#222" stroke-width="1"/>
<line x1="457.62" y1="210.40" x2="457.62" y2="212.90" stroke="#222" stroke-width="1"/>
<line x1="459.91" y1="210.40" x2="459.91" y2="215.40" stroke="#222" stroke-width="1"/>
<line x1="474.99" y1="210.40" x2="474.99" y2="212.90" stroke="#222" stroke-width="1"/>
<line x1="483.81" y1="210.40" x2="483.81" y2="212.90" stroke="#222" stroke-width="1"/>
<line x1="490.07" y1="210.40" x2="490.07" y2="212.90" stroke="#222" stroke-width="1"/>
<line x1="494.92" y1="210.40" x2="494.92" y2="212.90" stroke="#222" stroke-width="1"/>
<line x1="498.89" y1="210.40" x2="498.89" y2="212.90" stroke="#222" stroke-width="1"/>
<line x1="502.24" y1="210.40" x2="502.24" y2="212.90" stroke="#222" stroke-width="1"/>
<line x1="505.15" y1="210.40" x2="505.15" y2="212.90" stroke="#222" stroke-width="1"/>
<line x1="507.71" y1="210.40" x2="507.71" y2="212.90" stroke="#222" stroke-width="1"/>
<line x1="510.00" y1="210.40" x2="510.00" y2="215.40" stroke="#222" stroke-width="1"/>
<text transform="translate(313.0 229.6) scale(0.90 1)" font-size="10.3" text-anchor="end" fill="#111">10</text>
<text transform="translate(313.2 225.3) scale(0.90 1)" font-size="8" text-anchor="start" fill="#111">0</text>
<text transform="translate(363.1 229.6) scale(0.90 1)" font-size="10.3" text-anchor="end" fill="#111">10</text>
<text transform="translate(363.3 225.3) scale(0.90 1)" font-size="8" text-anchor="start" fill="#111">1</text>
<text transform="translate(413.2 229.6) scale(0.90 1)" font-size="10.3" text-anchor="end" fill="#111">10</text>
<text transform="translate(413.4 225.3) scale(0.90 1)" font-size="8" text-anchor="start" fill="#111">2</text>
<text transform="translate(463.3 229.6) scale(0.90 1)" font-size="10.3" text-anchor="end" fill="#111">10</text>
<text transform="translate(463.5 225.3) scale(0.90 1)" font-size="8" text-anchor="start" fill="#111">3</text>
<text transform="translate(513.4 229.6) scale(0.90 1)" font-size="10.3" text-anchor="end" fill="#111">10</text>
<text transform="translate(513.6 225.3) scale(0.90 1)" font-size="8" text-anchor="start" fill="#111">4</text>
<line x1="304.55" y1="210.40" x2="309.65" y2="210.40" stroke="#222" stroke-width="1"/>
<text transform="translate(300.6 214.0) scale(0.90 1)" font-size="10.2" text-anchor="end" fill="#111">0</text>
<line x1="307.25" y1="200.85" x2="309.65" y2="200.85" stroke="#222" stroke-width="1"/>
<line x1="307.25" y1="191.30" x2="309.65" y2="191.30" stroke="#222" stroke-width="1"/>
<line x1="307.25" y1="181.75" x2="309.65" y2="181.75" stroke="#222" stroke-width="1"/>
<line x1="304.55" y1="172.20" x2="309.65" y2="172.20" stroke="#222" stroke-width="1"/>
<text transform="translate(300.6 175.8) scale(0.90 1)" font-size="10.2" text-anchor="end" fill="#111">20</text>
<line x1="307.25" y1="162.65" x2="309.65" y2="162.65" stroke="#222" stroke-width="1"/>
<line x1="307.25" y1="153.10" x2="309.65" y2="153.10" stroke="#222" stroke-width="1"/>
<line x1="307.25" y1="143.55" x2="309.65" y2="143.55" stroke="#222" stroke-width="1"/>
<line x1="304.55" y1="134.00" x2="309.65" y2="134.00" stroke="#222" stroke-width="1"/>
<text transform="translate(300.6 137.6) scale(0.90 1)" font-size="10.2" text-anchor="end" fill="#111">40</text>
<line x1="307.25" y1="124.45" x2="309.65" y2="124.45" stroke="#222" stroke-width="1"/>
<line x1="307.25" y1="114.90" x2="309.65" y2="114.90" stroke="#222" stroke-width="1"/>
<line x1="307.25" y1="105.35" x2="309.65" y2="105.35" stroke="#222" stroke-width="1"/>
<line x1="304.55" y1="95.80" x2="309.65" y2="95.80" stroke="#222" stroke-width="1"/>
<text transform="translate(300.6 99.4) scale(0.90 1)" font-size="10.2" text-anchor="end" fill="#111">60</text>
<line x1="307.25" y1="86.25" x2="309.65" y2="86.25" stroke="#222" stroke-width="1"/>
<line x1="307.25" y1="76.70" x2="309.65" y2="76.70" stroke="#222" stroke-width="1"/>
<line x1="307.25" y1="67.15" x2="309.65" y2="67.15" stroke="#222" stroke-width="1"/>
<line x1="304.55" y1="57.60" x2="309.65" y2="57.60" stroke="#222" stroke-width="1"/>
<text transform="translate(300.6 61.2) scale(0.90 1)" font-size="10.2" text-anchor="end" fill="#111">80</text>
<line x1="307.25" y1="48.05" x2="309.65" y2="48.05" stroke="#222" stroke-width="1"/>
<line x1="307.25" y1="38.50" x2="309.65" y2="38.50" stroke="#222" stroke-width="1"/>
<line x1="307.25" y1="28.95" x2="309.65" y2="28.95" stroke="#222" stroke-width="1"/>
<line x1="304.55" y1="19.40" x2="309.65" y2="19.40" stroke="#222" stroke-width="1"/>
<text transform="translate(300.6 23.0) scale(0.90 1)" font-size="10.2" text-anchor="end" fill="#111">100</text>
<text transform="translate(279.7 110.0) rotate(-90)" font-size="12.2"  text-anchor="middle" fill="#111">% of Max</text>
<text x="409.8" y="242.4" font-size="12.6" text-anchor="middle" fill="#111">CD5 PE</text>
<text x="315.9" y="31.5" font-size="25" font-weight="bold" fill="#000">B</text>
<g clip-path="url(#clipC)">
<path d="M41 449.2V444.9H42V445.2H43V445.5H44V445.8H45V446.1H46V446.2H47V446.4H48V446.7H49V446.9H50V447.1H51V447.3H52V447.5H53V447.8H54V448.0H55V448.2H56V448.5H57V448.8H58V448.0H59V447.2H60V446.4H61V445.6H62V445.0H63V444.6H64V444.0H65V444.1H66V444.0H67V443.5H68V442.8H69V442.3H70V441.9H71V442.3H72V441.7H73V441.1H74V441.0H75V440.4H76V440.1H77V440.1H78V438.0H79V437.2H80V435.3H81V435.5H82V433.6H83V433.3H84V431.8H85V431.4H86V432.3H87V432.1H88V432.9H89V433.2H90V433.3H91V434.3H92V432.3H93V433.1H94V430.1H95V429.2H96V426.5H97V419.5H98V417.4H99V410.9H100V408.2H101V402.8H102V401.7H103V402.8H104V396.2H105V396.4H106V397.7H107V400.4H108V399.7H109V389.1H110V388.1H111V384.3H112V372.9H113V356.7H114V324.3H115V334.9H116V339.4H117V342.5H118V343.8H119V334.5H120V331.8H121V327.4H122V326.8H123V322.8H124V317.0H125V307.9H126V302.4H127V301.5H128V300.7H129V304.6H130V300.3H131V289.0H132V294.6H133V295.3H134V286.9H135V270.7H136V282.8H137V262.8H138V270.1H139V277.9H140V261.4H141V268.4H142V276.3H143V280.4H144V290.0H145V283.1H146V287.1H147V283.7H148V295.7H149V286.6H150V294.7H151V301.1H152V306.7H153V318.6H154V315.0H155V318.6H156V314.0H157V308.4H158V322.1H159V334.6H160V340.5H161V351.2H162V362.3H163V367.4H164V373.4H165V373.6H166V382.9H167V383.0H168V389.9H169V394.9H170V403.7H171V407.9H172V410.9H173V415.4H174V420.2H175V424.6H176V427.6H177V429.4H178V431.5H179V432.6H180V434.9H181V436.0H182V437.9H183V439.8H184V441.0H185V442.4H186V443.6H187V444.9H188V445.6H189V446.4H190V446.8H191V447.4H192V448.0H193V448.1H194V448.2H195V448.4H196V448.5H197V448.6H198V448.7H199V448.8H200V448.9H201V448.9H202V448.9H203V448.9H204V448.9H205V448.9H206V448.9H207V448.9H208V448.9H209V448.9H210V448.9H211V448.9H212V448.9H213V448.9H214V448.9H215V448.9H216V448.9H217V448.9H218V448.9H219V448.9H220V448.9H221V448.9H222V448.9H223V448.9H224V448.9H225V448.9H226V448.9H227V448.9H228V448.9H229V448.9H230V448.9H231V448.9H232V448.9H233V448.9H234V448.9H235V448.9H236V448.9H237V448.9H238V448.9H239V448.9H240V448.9H241V449.2Z" fill="#8c8c8c" stroke="none"/>
<path d="M41.2 448.8L43.0 442.5L45.0 435.0L47.5 422.5L50.0 413.8L53.8 403.8L57.5 395.0L61.2 385.0L63.8 372.5L65.5 362.5L67.0 365.0L68.8 360.0L69.5 357.5L72.5 335.0L73.8 330.0L75.0 332.5L77.5 322.5L79.5 297.5L80.5 285.0L82.0 265.0L83.0 260.0L84.5 277.5L86.2 280.0L88.0 267.5L89.5 260.0L91.2 277.5L92.5 292.5L94.5 277.5L95.5 276.0L97.5 295.0L99.5 307.5L101.2 335.0L103.0 340.0L105.0 358.0L107.5 375.0L110.0 385.0L112.5 392.5L115.0 391.0L117.5 400.0L120.0 407.5L123.8 412.5L127.5 417.5L130.0 420.5L135.0 422.5L140.0 428.8L145.0 432.5L150.0 436.0L155.0 440.0L160.0 438.8L165.0 441.0L170.0 443.8L175.0 446.0L180.0 448.0L185.0 448.8L241.0 448.9" fill="none" stroke="#000" stroke-width="1.15" stroke-linejoin="round"/>
<path d="M42.8 408.8L44.5 393.8L46.8 376.2L50.8 361.2L53.2 351.8L54.9 347.6L56.9 334.1L59.8 316.8L61.8 305.2L64.6 297.6L66.6 301.4L69.4 293.8L71.4 274.6L73.2 268.8L75.1 266.8L77.1 282.2L79.1 268.8L81.9 259.1L83.4 282.2L84.8 305.2L86.1 330.2L87.2 347.6L87.8 351.8L89.5 373.8L91.8 393.8L94.5 411.2L96.8 426.2L100.8 438.8L104.8 444.8L110.8 447.8L120.8 448.8L241.2 449.1" fill="none" stroke="#000" stroke-width="1.3" stroke-dasharray="2.2 1.6" stroke-linejoin="round"/>
<line x1="42.70" y1="249.90" x2="42.70" y2="449.20" stroke="#000" stroke-width="1.7" stroke-dasharray="1.8 2.7"/>
<path d="M41.5 448.8L43.1 448.8L44.8 448.8L46.4 448.8L48.1 448.8L49.7 448.8L51.3 448.8L53.0 448.8L54.6 448.8L56.2 448.8L57.5 447.5L58.5 445.8L59.9 444.5L61.6 443.2L63.4 442.6L64.9 441.7L66.3 441.1L68.3 439.1L69.9 438.6L71.3 438.2L73.5 437.2L75.1 436.8L76.7 435.1L78.7 434.3L79.7 432.0L81.3 431.1L81.5 429.0L82.7 427.7L83.5 426.0L85.0 425.2L86.4 423.5L87.1 420.9L89.1 419.7L89.9 417.6L91.5 416.9L93.0 415.4L94.7 414.1L95.1 412.7L95.8 411.3L96.6 408.9L96.9 407.6L97.2 406.0L98.7 404.3L98.7 402.7L99.9 401.4L100.4 399.4L101.0 398.2L102.0 396.2L103.1 394.3L103.5 392.5L104.3 390.8L105.4 388.6L105.6 386.9L106.5 386.1L107.1 384.1L108.4 382.1L108.2 380.2L109.3 378.6L109.5 377.7L110.2 375.9L110.8 373.5L111.3 372.7L112.3 370.6L112.5 368.1L113.0 366.3L113.8 364.5L114.4 362.8L114.3 361.3L115.3 359.6L115.9 358.3L115.8 356.7L116.2 355.0L117.0 353.1L117.9 351.4L117.9 349.4L118.6 348.3L119.0 346.5L119.7 344.7L119.6 343.2L119.9 341.2L120.6 339.7L121.2 337.9L121.2 337.0L121.5 334.8L122.0 334.1L122.1 332.6L122.7 330.2L122.2 328.4L123.3 327.5L122.8 326.0L123.8 324.4L124.0 322.9L123.9 321.0L124.2 319.4L125.1 317.9L125.7 316.4L125.4 314.5L126.5 312.4L126.6 310.3L126.9 308.7L127.6 307.2L127.7 306.6L128.1 304.6L128.5 303.0L129.2 300.6L129.5 299.1L130.4 298.4L130.8 296.9L131.3 294.9L131.5 293.4L132.8 292.2L133.0 290.1L134.1 287.8L134.2 286.3L135.1 284.5L135.3 283.9L136.3 282.1L137.2 280.7L137.9 278.7L139.1 277.4L139.0 275.5L139.9 274.2L140.0 272.9L140.0 271.2L140.7 268.6L141.4 267.1L141.8 265.8L142.8 264.3L144.2 262.8L145.4 260.8L146.4 262.7L147.2 264.4L147.7 266.0L148.6 268.3L149.4 270.0L150.2 270.8L151.8 272.8L153.9 273.9L154.4 275.8L154.9 278.0L155.7 279.4L156.3 281.0L157.0 283.5L156.9 284.2L157.7 285.8L157.3 288.3L158.2 288.7L158.5 290.2L158.5 292.4L159.5 294.2L159.5 295.3L160.0 298.0L160.0 299.4L160.8 300.5L160.6 303.0L161.1 304.0L161.8 306.3L162.1 307.6L162.4 309.5L162.6 311.8L162.9 313.5L162.7 314.8L163.4 317.1L163.4 318.7L163.7 319.6L164.1 322.3L164.1 324.0L164.5 325.5L163.9 326.4L164.1 328.6L164.8 330.5L165.1 331.4L164.5 332.8L165.3 335.5L164.9 337.2L165.7 338.9L165.9 339.9L165.6 341.3L166.3 343.2L166.7 345.1L166.2 346.3L166.7 348.0L166.7 350.0L167.2 351.7L167.0 352.9L167.9 355.3L167.8 356.6L168.2 358.6L168.4 360.6L168.5 361.0L168.2 362.7L168.6 365.7L169.1 366.4L169.3 367.7L170.2 370.0L170.5 372.0L170.5 373.1L170.9 375.2L171.5 376.8L171.6 377.7L171.8 380.2L172.2 381.3L172.4 383.2L173.2 385.6L173.0 386.7L173.3 388.9L174.0 390.2L173.9 391.7L174.4 393.1L174.5 396.0L175.1 396.9L175.3 399.6L176.1 400.1L176.4 402.6L176.7 403.6L177.0 406.4L177.7 406.8L177.5 408.6L178.1 411.3L178.6 413.1L179.3 414.2L179.8 415.8L179.9 416.9L180.3 418.6L181.1 421.0L181.2 422.4L182.1 422.9L182.6 425.3L183.3 426.8L183.6 427.8L184.2 430.0L185.4 431.2L185.4 432.7L186.5 434.8L187.1 436.8L188.3 437.5L189.0 439.6L189.6 441.4L191.4 441.8L192.8 443.2L193.4 445.5L194.7 446.9L197.1 447.1L199.1 446.6L200.6 447.6L202.5 448.0L204.2 448.1L205.8 448.2L207.5 448.2L209.2 448.3L210.8 448.4L212.5 448.5L214.2 448.6L215.8 448.7L217.5 448.8L219.2 448.8L220.9 448.8L222.6 448.8L224.3 448.8L226.0 448.8L227.7 448.8L229.4 448.8L231.1 448.8L232.8 448.8L234.5 448.8L236.2 448.8L237.9 448.8L239.6 448.8L241.2 448.8" fill="none" stroke="#000" stroke-width="3.05" stroke-linejoin="round"/>
</g>
<rect x="40.80" y="248.60" width="200.95" height="200.60" fill="none" stroke="#222" stroke-width="1"/>
<line x1="40.80" y1="449.20" x2="40.80" y2="454.20" stroke="#222" stroke-width="1"/>
<line x1="55.92" y1="449.20" x2="55.92" y2="451.70" stroke="#222" stroke-width="1"/>
<line x1="64.77" y1="449.20" x2="64.77" y2="451.70" stroke="#222" stroke-width="1"/>
<line x1="71.05" y1="449.20" x2="71.05" y2="451.70" stroke="#222" stroke-width="1"/>
<line x1="75.91" y1="449.20" x2="75.91" y2="451.70" stroke="#222" stroke-width="1"/>
<line x1="79.89" y1="449.20" x2="79.89" y2="451.70" stroke="#222" stroke-width="1"/>
<line x1="83.26" y1="449.20" x2="83.26" y2="451.70" stroke="#222" stroke-width="1"/>
<line x1="86.17" y1="449.20" x2="86.17" y2="451.70" stroke="#222" stroke-width="1"/>
<line x1="88.74" y1="449.20" x2="88.74" y2="451.70" stroke="#222" stroke-width="1"/>
<line x1="91.04" y1="449.20" x2="91.04" y2="454.20" stroke="#222" stroke-width="1"/>
<line x1="106.16" y1="449.20" x2="106.16" y2="451.70" stroke="#222" stroke-width="1"/>
<line x1="115.01" y1="449.20" x2="115.01" y2="451.70" stroke="#222" stroke-width="1"/>
<line x1="121.28" y1="449.20" x2="121.28" y2="451.70" stroke="#222" stroke-width="1"/>
<line x1="126.15" y1="449.20" x2="126.15" y2="451.70" stroke="#222" stroke-width="1"/>
<line x1="130.13" y1="449.20" x2="130.13" y2="451.70" stroke="#222" stroke-width="1"/>
<line x1="133.49" y1="449.20" x2="133.49" y2="451.70" stroke="#222" stroke-width="1"/>
<line x1="136.41" y1="449.20" x2="136.41" y2="451.70" stroke="#222" stroke-width="1"/>
<line x1="138.98" y1="449.20" x2="138.98" y2="451.70" stroke="#222" stroke-width="1"/>
<line x1="141.27" y1="449.20" x2="141.27" y2="454.20" stroke="#222" stroke-width="1"/>
<line x1="156.40" y1="449.20" x2="156.40" y2="451.70" stroke="#222" stroke-width="1"/>
<line x1="165.24" y1="449.20" x2="165.24" y2="451.70" stroke="#222" stroke-width="1"/>
<line x1="171.52" y1="449.20" x2="171.52" y2="451.70" stroke="#222" stroke-width="1"/>
<line x1="176.39" y1="449.20" x2="176.39" y2="451.70" stroke="#222" stroke-width="1"/>
<line x1="180.37" y1="449.20" x2="180.37" y2="451.70" stroke="#222" stroke-width="1"/>
<line x1="183.73" y1="449.20" x2="183.73" y2="451.70" stroke="#222" stroke-width="1"/>
<line x1="186.64" y1="449.20" x2="186.64" y2="451.70" stroke="#222" stroke-width="1"/>
<line x1="189.21" y1="449.20" x2="189.21" y2="451.70" stroke="#222" stroke-width="1"/>
<line x1="191.51" y1="449.20" x2="191.51" y2="454.20" stroke="#222" stroke-width="1"/>
<line x1="206.64" y1="449.20" x2="206.64" y2="451.70" stroke="#222" stroke-width="1"/>
<line x1="215.48" y1="449.20" x2="215.48" y2="451.70" stroke="#222" stroke-width="1"/>
<line x1="221.76" y1="449.20" x2="221.76" y2="451.70" stroke="#222" stroke-width="1"/>
<line x1="226.63" y1="449.20" x2="226.63" y2="451.70" stroke="#222" stroke-width="1"/>
<line x1="230.60" y1="449.20" x2="230.60" y2="451.70" stroke="#222" stroke-width="1"/>
<line x1="233.97" y1="449.20" x2="233.97" y2="451.70" stroke="#222" stroke-width="1"/>
<line x1="236.88" y1="449.20" x2="236.88" y2="451.70" stroke="#222" stroke-width="1"/>
<line x1="239.45" y1="449.20" x2="239.45" y2="451.70" stroke="#222" stroke-width="1"/>
<line x1="241.75" y1="449.20" x2="241.75" y2="454.20" stroke="#222" stroke-width="1"/>
<text transform="translate(44.0 468.6) scale(0.90 1)" font-size="10.3" text-anchor="end" fill="#111">10</text>
<text transform="translate(44.2 464.3) scale(0.90 1)" font-size="8" text-anchor="start" fill="#111">0</text>
<text transform="translate(94.2 468.6) scale(0.90 1)" font-size="10.3" text-anchor="end" fill="#111">10</text>
<text transform="translate(94.4 464.3) scale(0.90 1)" font-size="8" text-anchor="start" fill="#111">1</text>
<text transform="translate(144.5 468.6) scale(0.90 1)" font-size="10.3" text-anchor="end" fill="#111">10</text>
<text transform="translate(144.7 464.3) scale(0.90 1)" font-size="8" text-anchor="start" fill="#111">2</text>
<text transform="translate(194.7 468.6) scale(0.90 1)" font-size="10.3" text-anchor="end" fill="#111">10</text>
<text transform="translate(194.9 464.3) scale(0.90 1)" font-size="8" text-anchor="start" fill="#111">3</text>
<text transform="translate(244.9 468.6) scale(0.90 1)" font-size="10.3" text-anchor="end" fill="#111">10</text>
<text transform="translate(245.1 464.3) scale(0.90 1)" font-size="8" text-anchor="start" fill="#111">4</text>
<line x1="35.70" y1="449.20" x2="40.80" y2="449.20" stroke="#222" stroke-width="1"/>
<text transform="translate(32.5 452.8) scale(0.90 1)" font-size="10.2" text-anchor="end" fill="#111">0</text>
<line x1="38.40" y1="439.64" x2="40.80" y2="439.64" stroke="#222" stroke-width="1"/>
<line x1="38.40" y1="430.09" x2="40.80" y2="430.09" stroke="#222" stroke-width="1"/>
<line x1="38.40" y1="420.53" x2="40.80" y2="420.53" stroke="#222" stroke-width="1"/>
<line x1="35.70" y1="410.98" x2="40.80" y2="410.98" stroke="#222" stroke-width="1"/>
<text transform="translate(32.5 414.6) scale(0.90 1)" font-size="10.2" text-anchor="end" fill="#111">20</text>
<line x1="38.40" y1="401.43" x2="40.80" y2="401.43" stroke="#222" stroke-width="1"/>
<line x1="38.40" y1="391.87" x2="40.80" y2="391.87" stroke="#222" stroke-width="1"/>
<line x1="38.40" y1="382.31" x2="40.80" y2="382.31" stroke="#222" stroke-width="1"/>
<line x1="35.70" y1="372.76" x2="40.80" y2="372.76" stroke="#222" stroke-width="1"/>
<text transform="translate(32.5 376.4) scale(0.90 1)" font-size="10.2" text-anchor="end" fill="#111">40</text>
<line x1="38.40" y1="363.21" x2="40.80" y2="363.21" stroke="#222" stroke-width="1"/>
<line x1="38.40" y1="353.65" x2="40.80" y2="353.65" stroke="#222" stroke-width="1"/>
<line x1="38.40" y1="344.10" x2="40.80" y2="344.10" stroke="#222" stroke-width="1"/>
<line x1="35.70" y1="334.54" x2="40.80" y2="334.54" stroke="#222" stroke-width="1"/>
<text transform="translate(32.5 338.1) scale(0.90 1)" font-size="10.2" text-anchor="end" fill="#111">60</text>
<line x1="38.40" y1="324.99" x2="40.80" y2="324.99" stroke="#222" stroke-width="1"/>
<line x1="38.40" y1="315.43" x2="40.80" y2="315.43" stroke="#222" stroke-width="1"/>
<line x1="38.40" y1="305.88" x2="40.80" y2="305.88" stroke="#222" stroke-width="1"/>
<line x1="35.70" y1="296.32" x2="40.80" y2="296.32" stroke="#222" stroke-width="1"/>
<text transform="translate(32.5 299.9) scale(0.90 1)" font-size="10.2" text-anchor="end" fill="#111">80</text>
<line x1="38.40" y1="286.76" x2="40.80" y2="286.76" stroke="#222" stroke-width="1"/>
<line x1="38.40" y1="277.21" x2="40.80" y2="277.21" stroke="#222" stroke-width="1"/>
<line x1="38.40" y1="267.66" x2="40.80" y2="267.66" stroke="#222" stroke-width="1"/>
<line x1="35.70" y1="258.10" x2="40.80" y2="258.10" stroke="#222" stroke-width="1"/>
<text transform="translate(32.5 261.7) scale(0.90 1)" font-size="10.2" text-anchor="end" fill="#111">100</text>
<text transform="translate(11.0 348.5) rotate(-90)" font-size="12.2"  text-anchor="middle" fill="#111">% of Max</text>
<text x="140.8" y="481.0" font-size="12.6" text-anchor="middle" fill="#111">CD23 PE</text>
<text x="44.9" y="274.1" font-size="25" font-weight="bold" fill="#000">C</text>
<g clip-path="url(#clipD)">
<path d="M311 450.1V449.0H312V449.0H313V449.0H314V449.0H315V449.0H316V449.0H317V449.0H318V449.0H319V449.0H320V449.0H321V449.0H322V449.0H323V449.0H324V449.0H325V449.0H326V449.0H327V449.0H328V449.0H329V449.0H330V448.8H331V448.4H332V448.0H333V447.6H334V447.2H335V447.4H336V447.6H337V448.0H338V448.4H339V448.8H340V448.9H341V448.7H342V448.4H343V448.2H344V448.0H345V447.8H346V447.5H347V447.3H348V447.1H349V447.0H350V446.9H351V446.5H352V446.3H353V445.7H354V445.4H355V445.3H356V445.2H357V445.5H358V446.0H359V446.1H360V446.4H361V446.4H362V446.7H363V446.9H364V446.6H365V446.2H366V445.9H367V445.4H368V445.3H369V445.1H370V445.1H371V445.1H372V445.6H373V445.4H374V445.6H375V445.9H376V445.9H377V446.0H378V445.3H379V445.2H380V444.6H381V444.2H382V443.2H383V443.3H384V442.3H385V442.2H386V441.0H387V439.8H388V439.0H389V438.9H390V438.6H391V438.3H392V438.3H393V437.1H394V437.3H395V434.8H396V433.9H397V432.1H398V428.8H399V426.2H400V423.4H401V417.2H402V410.5H403V407.0H404V397.0H405V395.9H406V390.0H407V379.7H408V374.5H409V364.9H410V365.1H411V360.5H412V355.7H413V345.8H414V340.5H415V322.0H416V319.4H417V304.1H418V302.5H419V290.6H420V283.3H421V259.4H422V260.2H423V256.2H424V269.4H425V285.1H426V282.5H427V283.1H428V305.0H429V316.6H430V316.6H431V313.3H432V323.6H433V325.8H434V338.4H435V345.6H436V346.6H437V358.5H438V362.8H439V372.3H440V375.7H441V388.3H442V403.2H443V413.3H444V419.3H445V423.9H446V426.0H447V427.5H448V428.7H449V428.6H450V430.4H451V431.5H452V431.8H453V433.1H454V432.7H455V433.0H456V433.8H457V433.7H458V433.3H459V433.0H460V432.5H461V431.2H462V431.3H463V432.5H464V434.1H465V435.0H466V435.6H467V437.1H468V436.8H469V439.0H470V438.9H471V439.2H472V439.6H473V440.5H474V441.0H475V440.9H476V441.9H477V442.4H478V443.0H479V443.3H480V444.0H481V444.6H482V445.4H483V446.0H484V446.6H485V447.3H486V447.4H487V447.9H488V448.3H489V448.7H490V448.9H491V448.9H492V448.9H493V448.9H494V448.9H495V448.9H496V448.9H497V448.9H498V448.9H499V448.9H500V449.0H501V449.0H502V449.0H503V449.0H504V449.0H505V449.0H506V449.0H507V449.0H508V449.0H509V449.0H510V450.1Z" fill="#8c8c8c" stroke="none"/>
<path d="M310.6 449.5L310.8 425.0L313.8 417.5L317.0 411.2L319.5 413.0L322.5 402.5L325.5 390.0L328.8 382.5L332.5 372.5L335.0 362.5L336.5 358.0L338.0 378.8L340.0 367.5L341.2 358.0L343.8 335.0L346.2 327.5L348.0 290.0L349.5 305.0L351.2 340.0L353.0 325.0L354.5 310.0L356.2 280.0L358.0 287.5L360.0 300.0L362.0 297.5L364.5 315.0L367.0 292.5L370.0 260.0L372.0 275.0L373.8 287.5L375.5 270.0L377.5 295.0L379.5 287.5L381.2 300.0L383.8 290.0L386.2 302.5L388.8 287.5L390.0 295.0L392.5 307.5L394.5 300.0L396.2 290.0L398.8 282.5L400.5 297.5L402.5 285.0L405.0 277.5L407.0 282.5L409.5 272.5L412.0 285.0L414.5 292.5L416.2 282.5L418.8 272.5L421.2 267.5L423.8 285.0L425.0 302.5L427.0 290.0L428.0 307.5L429.5 290.0L431.0 300.0L433.0 320.0L436.0 345.0L439.0 365.0L441.2 372.5L443.0 370.0L445.0 376.2L447.5 385.0L450.0 402.5L452.0 416.2L453.8 422.5L456.2 420.0L460.0 423.8L463.8 427.5L467.5 428.8L471.2 426.2L473.8 421.2L476.2 423.8L480.0 422.5L483.0 417.5L485.0 416.2L487.5 422.5L490.0 421.2L493.0 430.0L495.0 427.5L497.0 423.8L499.5 430.0L502.5 433.8L505.5 436.2L507.5 441.2L509.5 447.5" fill="none" stroke="#000" stroke-width="1.15" stroke-linejoin="round"/>
<path d="M311.5 409.5L313.2 394.5L315.5 377.0L319.5 362.0L322.0 352.5L323.7 348.3L325.7 334.9L328.5 317.5L330.5 306.0L333.3 298.3L335.3 302.2L338.2 294.5L340.1 275.3L342.0 269.5L343.9 267.5L345.8 283.0L347.8 269.5L350.7 259.9L352.2 283.0L353.5 306.0L354.9 331.0L356.0 348.3L356.5 352.5L358.2 374.5L360.5 394.5L363.2 412.0L365.5 427.0L369.5 439.5L373.5 445.5L379.5 448.5L389.5 449.5L510.0 449.8" fill="none" stroke="#000" stroke-width="1.3" stroke-dasharray="2.2 1.6" stroke-linejoin="round"/>
<line x1="311.25" y1="250.60" x2="311.25" y2="450.10" stroke="#000" stroke-width="1.7" stroke-dasharray="1.8 2.7"/>
<path d="M310.5 448.8L312.1 448.8L313.8 448.8L315.4 448.8L317.1 448.8L318.7 448.8L320.4 448.8L322.0 448.8L323.6 448.8L325.3 448.8L326.9 448.8L328.6 448.8L330.2 448.8L331.9 448.8L333.5 448.8L335.1 448.8L336.8 448.8L338.4 448.8L340.1 448.8L341.7 448.8L343.4 448.8L345.0 448.8L346.9 448.4L348.8 448.1L350.8 447.4L352.2 447.3L354.3 446.7L355.9 446.7L357.2 446.2L358.8 445.5L361.1 445.6L362.9 444.5L364.8 444.5L367.2 445.3L368.6 444.7L370.3 444.5L372.1 444.2L374.5 444.0L376.5 443.1L377.8 442.4L380.3 442.7L381.2 441.6L383.0 439.3L385.3 439.3L386.5 437.9L388.1 435.8L390.2 434.7L391.3 434.3L393.3 432.9L395.3 431.5L395.6 429.2L397.2 428.1L397.6 426.9L399.1 424.5L399.2 424.0L399.3 422.0L399.9 420.3L400.1 418.4L400.6 416.1L401.5 414.4L401.3 413.7L401.7 412.1L402.3 409.9L402.8 407.6L402.9 405.8L403.1 404.1L403.9 401.9L403.7 400.4L404.4 398.4L404.4 396.5L405.4 395.6L405.1 393.0L405.6 392.1L406.2 389.4L406.5 389.0L406.9 387.3L407.0 385.2L407.4 383.5L407.9 381.5L407.6 380.0L408.2 378.2L408.8 376.0L408.9 375.3L408.9 373.5L409.6 371.9L409.9 369.7L409.6 368.5L409.7 367.0L410.2 364.9L410.8 362.7L410.6 362.0L410.9 360.2L411.1 358.9L411.6 356.8L411.7 355.0L412.0 352.8L412.3 352.3L411.9 349.3L412.3 348.7L412.5 347.0L412.8 345.6L412.4 343.7L412.9 342.1L413.2 340.0L413.3 338.2L413.1 337.2L413.6 334.8L413.3 333.9L413.6 331.8L414.1 330.2L414.3 329.2L414.2 327.0L414.7 325.7L414.7 324.1L415.2 322.4L414.8 320.3L415.6 319.7L415.4 317.6L416.1 316.4L415.8 313.9L416.3 313.4L416.3 311.1L416.8 310.1L416.4 307.5L417.2 306.2L416.8 305.4L417.0 303.3L417.7 301.7L417.3 300.6L417.9 298.0L418.3 297.2L417.8 294.6L418.6 292.9L418.6 292.6L418.4 289.9L418.4 288.7L418.9 287.1L418.8 285.0L419.2 283.8L419.3 282.0L419.5 280.9L420.2 279.5L420.1 277.8L420.2 275.4L421.0 274.1L421.3 273.2L422.2 270.7L421.9 269.8L422.9 268.0L423.3 265.5L423.8 264.7L423.9 263.1L425.7 261.9L427.5 261.5L427.5 263.4L428.1 265.0L428.2 266.8L428.7 268.1L429.1 270.3L429.3 271.9L429.6 272.9L429.1 274.4L429.5 276.7L429.9 278.7L429.7 280.3L430.1 282.4L430.6 283.9L430.9 285.3L430.8 286.6L430.6 289.3L431.4 290.2L431.2 291.8L431.4 294.0L432.0 295.2L431.5 296.8L432.2 298.5L432.2 300.7L432.5 301.9L432.1 303.4L432.5 304.8L432.7 307.3L433.3 309.0L433.3 309.5L433.8 311.2L433.8 313.5L433.9 314.3L434.0 316.8L434.1 317.8L434.3 319.5L434.1 321.1L434.5 323.6L434.8 324.2L434.6 325.6L435.5 327.5L435.2 329.2L435.5 331.1L436.0 333.0L436.2 334.6L436.0 336.2L435.8 336.8L436.7 339.5L436.6 341.1L436.6 342.0L436.9 344.6L437.4 346.2L437.2 347.9L437.7 349.6L438.1 351.1L437.6 352.3L438.1 353.3L438.8 356.2L438.6 356.7L439.1 359.4L438.5 360.2L438.8 362.8L439.0 363.2L439.0 365.8L439.1 366.7L439.3 367.9L439.7 370.2L439.8 372.3L440.1 373.7L440.1 375.6L440.5 375.9L440.1 377.9L440.3 379.6L440.4 381.9L440.6 382.9L440.9 385.1L441.0 386.7L441.0 388.4L441.5 389.5L441.6 391.1L442.0 392.5L442.2 394.6L442.0 396.2L442.5 396.8L442.4 399.0L443.2 401.4L443.0 402.9L443.7 404.1L443.8 405.9L443.7 406.9L444.2 409.1L444.3 411.3L444.4 411.8L445.4 414.6L445.4 416.0L445.8 417.6L446.4 418.2L447.3 420.7L448.1 421.1L448.7 422.7L449.0 424.7L449.9 426.0L451.6 427.4L452.7 429.1L453.7 430.8L455.4 431.7L457.6 432.4L459.2 432.8L461.0 434.0L463.1 434.9L464.7 434.5L466.4 436.0L468.1 436.2L469.8 436.2L471.6 436.7L473.7 438.1L475.0 439.3L476.6 439.2L478.0 440.6L480.2 441.8L482.2 442.4L483.6 443.2L486.0 445.3L487.4 446.4L489.2 446.5L491.0 448.0L492.3 447.8L494.4 448.2L496.2 448.4L498.1 448.6L500.0 448.8L501.7 448.8L503.3 448.8L505.0 448.8L506.7 448.8L508.3 448.8L510.0 448.8" fill="none" stroke="#000" stroke-width="3.05" stroke-linejoin="round"/>
</g>
<rect x="309.55" y="249.50" width="200.65" height="200.60" fill="none" stroke="#222" stroke-width="1"/>
<line x1="309.55" y1="450.10" x2="309.55" y2="455.10" stroke="#222" stroke-width="1"/>
<line x1="324.65" y1="450.10" x2="324.65" y2="452.60" stroke="#222" stroke-width="1"/>
<line x1="333.48" y1="450.10" x2="333.48" y2="452.60" stroke="#222" stroke-width="1"/>
<line x1="339.75" y1="450.10" x2="339.75" y2="452.60" stroke="#222" stroke-width="1"/>
<line x1="344.61" y1="450.10" x2="344.61" y2="452.60" stroke="#222" stroke-width="1"/>
<line x1="348.58" y1="450.10" x2="348.58" y2="452.60" stroke="#222" stroke-width="1"/>
<line x1="351.94" y1="450.10" x2="351.94" y2="452.60" stroke="#222" stroke-width="1"/>
<line x1="354.85" y1="450.10" x2="354.85" y2="452.60" stroke="#222" stroke-width="1"/>
<line x1="357.42" y1="450.10" x2="357.42" y2="452.60" stroke="#222" stroke-width="1"/>
<line x1="359.71" y1="450.10" x2="359.71" y2="455.10" stroke="#222" stroke-width="1"/>
<line x1="374.81" y1="450.10" x2="374.81" y2="452.60" stroke="#222" stroke-width="1"/>
<line x1="383.65" y1="450.10" x2="383.65" y2="452.60" stroke="#222" stroke-width="1"/>
<line x1="389.91" y1="450.10" x2="389.91" y2="452.60" stroke="#222" stroke-width="1"/>
<line x1="394.77" y1="450.10" x2="394.77" y2="452.60" stroke="#222" stroke-width="1"/>
<line x1="398.75" y1="450.10" x2="398.75" y2="452.60" stroke="#222" stroke-width="1"/>
<line x1="402.10" y1="450.10" x2="402.10" y2="452.60" stroke="#222" stroke-width="1"/>
<line x1="405.01" y1="450.10" x2="405.01" y2="452.60" stroke="#222" stroke-width="1"/>
<line x1="407.58" y1="450.10" x2="407.58" y2="452.60" stroke="#222" stroke-width="1"/>
<line x1="409.88" y1="450.10" x2="409.88" y2="455.10" stroke="#222" stroke-width="1"/>
<line x1="424.98" y1="450.10" x2="424.98" y2="452.60" stroke="#222" stroke-width="1"/>
<line x1="433.81" y1="450.10" x2="433.81" y2="452.60" stroke="#222" stroke-width="1"/>
<line x1="440.08" y1="450.10" x2="440.08" y2="452.60" stroke="#222" stroke-width="1"/>
<line x1="444.94" y1="450.10" x2="444.94" y2="452.60" stroke="#222" stroke-width="1"/>
<line x1="448.91" y1="450.10" x2="448.91" y2="452.60" stroke="#222" stroke-width="1"/>
<line x1="452.27" y1="450.10" x2="452.27" y2="452.60" stroke="#222" stroke-width="1"/>
<line x1="455.18" y1="450.10" x2="455.18" y2="452.60" stroke="#222" stroke-width="1"/>
<line x1="457.74" y1="450.10" x2="457.74" y2="452.60" stroke="#222" stroke-width="1"/>
<line x1="460.04" y1="450.10" x2="460.04" y2="455.10" stroke="#222" stroke-width="1"/>
<line x1="475.14" y1="450.10" x2="475.14" y2="452.60" stroke="#222" stroke-width="1"/>
<line x1="483.97" y1="450.10" x2="483.97" y2="452.60" stroke="#222" stroke-width="1"/>
<line x1="490.24" y1="450.10" x2="490.24" y2="452.60" stroke="#222" stroke-width="1"/>
<line x1="495.10" y1="450.10" x2="495.10" y2="452.60" stroke="#222" stroke-width="1"/>
<line x1="499.07" y1="450.10" x2="499.07" y2="452.60" stroke="#222" stroke-width="1"/>
<line x1="502.43" y1="450.10" x2="502.43" y2="452.60" stroke="#222" stroke-width="1"/>
<line x1="505.34" y1="450.10" x2="505.34" y2="452.60" stroke="#222" stroke-width="1"/>
<line x1="507.90" y1="450.10" x2="507.90" y2="452.60" stroke="#222" stroke-width="1"/>
<line x1="510.20" y1="450.10" x2="510.20" y2="455.10" stroke="#222" stroke-width="1"/>
<text transform="translate(312.9 469.2) scale(0.90 1)" font-size="10.3" text-anchor="end" fill="#111">10</text>
<text transform="translate(313.1 464.9) scale(0.90 1)" font-size="8" text-anchor="start" fill="#111">0</text>
<text transform="translate(363.1 469.2) scale(0.90 1)" font-size="10.3" text-anchor="end" fill="#111">10</text>
<text transform="translate(363.3 464.9) scale(0.90 1)" font-size="8" text-anchor="start" fill="#111">1</text>
<text transform="translate(413.3 469.2) scale(0.90 1)" font-size="10.3" text-anchor="end" fill="#111">10</text>
<text transform="translate(413.5 464.9) scale(0.90 1)" font-size="8" text-anchor="start" fill="#111">2</text>
<text transform="translate(463.4 469.2) scale(0.90 1)" font-size="10.3" text-anchor="end" fill="#111">10</text>
<text transform="translate(463.6 464.9) scale(0.90 1)" font-size="8" text-anchor="start" fill="#111">3</text>
<text transform="translate(513.6 469.2) scale(0.90 1)" font-size="10.3" text-anchor="end" fill="#111">10</text>
<text transform="translate(513.8 464.9) scale(0.90 1)" font-size="8" text-anchor="start" fill="#111">4</text>
<line x1="304.45" y1="450.10" x2="309.55" y2="450.10" stroke="#222" stroke-width="1"/>
<text transform="translate(300.6 453.7) scale(0.90 1)" font-size="10.2" text-anchor="end" fill="#111">0</text>
<line x1="307.15" y1="440.55" x2="309.55" y2="440.55" stroke="#222" stroke-width="1"/>
<line x1="307.15" y1="430.99" x2="309.55" y2="430.99" stroke="#222" stroke-width="1"/>
<line x1="307.15" y1="421.44" x2="309.55" y2="421.44" stroke="#222" stroke-width="1"/>
<line x1="304.45" y1="411.88" x2="309.55" y2="411.88" stroke="#222" stroke-width="1"/>
<text transform="translate(300.6 415.5) scale(0.90 1)" font-size="10.2" text-anchor="end" fill="#111">20</text>
<line x1="307.15" y1="402.33" x2="309.55" y2="402.33" stroke="#222" stroke-width="1"/>
<line x1="307.15" y1="392.77" x2="309.55" y2="392.77" stroke="#222" stroke-width="1"/>
<line x1="307.15" y1="383.22" x2="309.55" y2="383.22" stroke="#222" stroke-width="1"/>
<line x1="304.45" y1="373.66" x2="309.55" y2="373.66" stroke="#222" stroke-width="1"/>
<text transform="translate(300.6 377.3) scale(0.90 1)" font-size="10.2" text-anchor="end" fill="#111">40</text>
<line x1="307.15" y1="364.11" x2="309.55" y2="364.11" stroke="#222" stroke-width="1"/>
<line x1="307.15" y1="354.55" x2="309.55" y2="354.55" stroke="#222" stroke-width="1"/>
<line x1="307.15" y1="345.00" x2="309.55" y2="345.00" stroke="#222" stroke-width="1"/>
<line x1="304.45" y1="335.44" x2="309.55" y2="335.44" stroke="#222" stroke-width="1"/>
<text transform="translate(300.6 339.0) scale(0.90 1)" font-size="10.2" text-anchor="end" fill="#111">60</text>
<line x1="307.15" y1="325.88" x2="309.55" y2="325.88" stroke="#222" stroke-width="1"/>
<line x1="307.15" y1="316.33" x2="309.55" y2="316.33" stroke="#222" stroke-width="1"/>
<line x1="307.15" y1="306.77" x2="309.55" y2="306.77" stroke="#222" stroke-width="1"/>
<line x1="304.45" y1="297.22" x2="309.55" y2="297.22" stroke="#222" stroke-width="1"/>
<text transform="translate(300.6 300.8) scale(0.90 1)" font-size="10.2" text-anchor="end" fill="#111">80</text>
<line x1="307.15" y1="287.66" x2="309.55" y2="287.66" stroke="#222" stroke-width="1"/>
<line x1="307.15" y1="278.11" x2="309.55" y2="278.11" stroke="#222" stroke-width="1"/>
<line x1="307.15" y1="268.56" x2="309.55" y2="268.56" stroke="#222" stroke-width="1"/>
<line x1="304.45" y1="259.00" x2="309.55" y2="259.00" stroke="#222" stroke-width="1"/>
<text transform="translate(300.6 262.6) scale(0.90 1)" font-size="10.2" text-anchor="end" fill="#111">100</text>
<text transform="translate(279.7 349.0) rotate(-90)" font-size="12.2"  text-anchor="middle" fill="#111">% of Max</text>
<text x="409.6" y="481.8" font-size="12.6" text-anchor="middle" fill="#111">CD38 PE</text>
<text x="314.1" y="273.2" font-size="25" font-weight="bold" fill="#000">D</text>
<g clip-path="url(#clipE)">
<path d="M107 688.5V688.1H108V687.3H109V686.5H110V685.8H111V685.0H112V684.4H113V683.7H114V683.9H115V683.1H116V683.1H117V682.4H118V682.0H119V681.5H120V680.9H121V680.4H122V679.4H123V678.3H124V678.6H125V677.6H126V677.5H127V676.9H128V675.5H129V673.8H130V670.6H131V665.3H132V660.4H133V658.4H134V656.1H135V654.4H136V650.3H137V647.5H138V643.3H139V643.0H140V642.2H141V640.2H142V635.0H143V627.9H144V629.6H145V624.0H146V617.4H147V606.0H148V599.3H149V592.0H150V595.7H151V589.7H152V574.2H153V580.3H154V571.2H155V568.2H156V563.0H157V560.8H158V553.2H159V540.3H160V530.7H161V523.8H162V519.8H163V502.7H164V502.0H165V510.2H166V513.2H167V509.8H168V507.5H169V504.0H170V518.7H171V515.3H172V529.4H173V541.4H174V535.4H175V525.8H176V525.3H177V532.2H178V544.8H179V562.2H180V552.0H181V571.3H182V572.0H183V585.8H184V595.4H185V603.6H186V609.1H187V605.8H188V608.4H189V612.3H190V619.1H191V625.4H192V637.7H193V638.2H194V638.5H195V636.1H196V632.9H197V630.4H198V638.0H199V645.8H200V648.0H201V655.8H202V658.3H203V661.2H204V662.6H205V660.3H206V658.7H207V662.4H208V666.2H209V669.5H210V673.5H211V675.4H212V677.9H213V678.5H214V678.6H215V679.6H216V678.4H217V677.6H218V677.1H219V676.0H220V675.5H221V675.7H222V677.2H223V680.0H224V682.0H225V683.7H226V684.9H227V685.7H228V686.3H229V687.0H230V687.6H231V688.2H232V688.5Z" fill="#8c8c8c" stroke="none"/>
<path d="M41.5 688.6L172.5 688.5L173.8 681.0L175.5 671.0L177.5 658.5L181.2 652.2L184.5 646.0L187.5 641.0L190.0 628.5L192.0 613.5L194.0 606.0L196.5 600.0L197.5 595.0L198.8 591.0L201.2 588.5L203.0 591.0L204.5 563.5L205.5 531.0L207.0 511.0L208.8 508.5L211.2 499.8L212.5 511.0L213.8 524.8L215.5 513.5L217.5 501.0L219.5 499.8L221.2 511.0L222.5 531.0L223.8 556.0L225.0 581.0L226.2 596.0L228.0 598.5L228.8 606.0L230.0 623.5L231.2 638.5L233.0 648.5L234.5 658.5L236.2 668.5L238.0 676.0L240.0 681.0L241.2 684.8" fill="none" stroke="#000" stroke-width="1.15" stroke-linejoin="round"/>
<path d="M42.3 659.2L44.0 654.0L47.5 647.0L51.0 641.0L54.4 637.6L57.4 634.0L58.8 624.6L61.4 617.7L63.6 603.8L64.8 598.7L66.5 597.0L67.7 592.3L70.3 575.0L72.9 562.9L75.5 547.3L78.0 538.6L80.7 531.7L81.5 519.6L82.4 507.5L83.3 501.4L85.3 502.3L86.4 505.8L87.8 501.0L89.3 499.2L90.5 505.8L91.9 509.2L93.6 519.6L95.0 533.4L96.2 545.6L97.4 557.7L98.8 571.5L99.9 583.6L100.6 593.0L101.4 595.7L102.0 600.4L102.9 610.8L103.7 624.6L104.6 636.7L105.5 648.8L106.9 659.2L108.1 667.9L109.8 674.8L111.5 680.0L114.1 684.3L117.6 686.9L122.8 688.1L241.0 688.3" fill="none" stroke="#000" stroke-width="1.3" stroke-dasharray="2.2 1.6" stroke-linejoin="round"/>
<line x1="42.50" y1="489.80" x2="42.50" y2="688.50" stroke="#000" stroke-width="1.7" stroke-dasharray="1.8 2.7"/>
<path d="M41.5 688.2L43.1 688.2L44.7 688.2L46.3 688.2L48.0 688.2L49.6 688.2L51.2 688.2L52.8 688.2L54.4 688.2L56.0 688.2L57.6 688.3L59.2 688.3L60.9 688.3L62.5 688.3L64.1 688.3L65.7 688.3L67.3 688.3L68.9 688.3L70.5 688.3L72.1 688.3L73.8 688.3L75.4 688.3L77.0 688.3L78.6 688.3L80.2 688.3L81.8 688.3L83.4 688.3L85.0 688.3L86.7 688.3L88.3 688.3L89.9 688.4L91.5 688.4L93.1 688.4L94.7 688.4L96.3 688.4L97.9 688.4L99.6 688.4L101.2 688.4L102.8 688.4L104.4 688.4L106.7 685.6L107.4 683.9L108.4 681.8L109.3 679.4L110.6 678.8L112.8 676.6L114.4 675.2L116.8 674.7L117.8 673.0L119.5 671.5L120.5 669.1L121.5 668.5L123.2 666.8L124.4 665.3L126.0 665.5L127.9 663.8L129.2 662.5L129.4 660.3L130.2 659.0L130.9 657.3L131.7 656.1L132.4 654.2L133.1 652.3L134.1 650.6L134.5 649.2L135.0 647.0L136.0 646.5L135.9 644.0L137.2 643.0L137.6 641.5L137.5 639.6L137.9 637.1L138.9 635.4L139.0 634.1L139.2 632.5L140.0 630.4L139.9 628.9L140.2 626.2L141.2 624.8L140.9 623.8L141.3 622.1L142.4 619.8L142.8 618.6L142.7 616.3L143.0 615.2L144.1 613.4L144.1 611.6L144.7 610.3L144.8 608.1L145.3 606.9L146.4 604.2L147.3 603.2L147.3 601.2L147.7 599.1L148.7 597.5L148.5 595.0L149.5 593.0L149.2 591.3L149.6 589.8L150.4 588.2L150.4 587.2L150.7 584.7L151.4 583.9L151.1 582.0L152.1 579.8L152.2 579.3L152.1 577.7L152.7 575.7L153.0 573.8L152.9 571.7L153.2 570.7L153.0 569.2L153.2 567.4L153.2 565.7L153.4 564.1L153.9 562.4L154.1 561.4L154.1 559.7L154.7 557.4L154.4 556.4L155.3 554.7L154.8 553.0L155.4 551.1L155.5 549.5L156.1 548.4L155.9 546.3L156.6 545.1L157.2 543.2L157.4 540.9L157.9 540.5L157.9 538.4L158.2 536.0L159.0 534.6L159.7 532.5L159.6 531.1L160.2 529.5L159.9 528.1L160.7 525.6L160.9 523.7L161.2 522.1L160.8 521.5L160.9 518.8L161.0 518.6L161.2 516.9L161.7 515.0L161.9 512.7L162.3 511.0L163.1 510.5L163.9 507.9L166.0 507.1L166.7 509.7L167.2 510.6L166.8 512.9L167.8 510.8L168.7 508.9L169.1 507.2L169.0 504.7L169.5 503.2L171.1 502.3L172.3 500.6L173.9 501.4L174.4 503.9L174.9 505.6L175.8 506.7L176.2 509.7L176.3 511.8L176.3 512.9L177.0 515.6L177.4 517.4L178.0 519.0L178.5 520.4L179.0 522.7L179.8 523.8L180.2 526.1L180.4 527.6L180.6 528.9L180.9 531.2L181.4 532.0L181.7 533.7L181.7 536.1L182.3 537.6L182.5 538.9L182.4 540.2L183.4 541.7L183.2 543.4L183.5 545.0L184.1 546.7L184.1 548.1L185.1 549.4L185.4 551.6L185.4 552.6L186.0 554.6L185.6 556.7L185.9 557.3L186.7 560.0L186.8 560.5L186.9 562.2L187.6 564.1L188.1 566.4L188.1 568.2L188.4 569.2L188.4 571.5L189.5 572.9L190.0 574.3L190.3 574.8L190.4 577.2L191.4 579.0L191.8 580.4L191.6 582.5L192.0 584.1L192.9 586.2L193.4 588.2L193.8 589.7L194.4 592.2L194.4 593.4L195.2 595.3L195.7 598.4L196.2 599.9L196.5 601.1L196.4 602.7L197.0 604.4L197.0 607.0L197.3 608.4L197.6 609.8L198.4 611.8L198.7 613.6L199.8 614.8L200.0 616.7L200.0 618.4L200.5 619.2L201.4 621.0L201.9 622.6L202.1 624.7L203.1 626.5L203.8 628.2L204.4 628.9L204.8 631.6L205.9 633.0L206.1 634.3L207.4 636.5L208.2 637.3L208.4 639.9L209.5 641.4L210.9 642.2L211.2 644.2L212.2 646.4L212.7 647.1L214.0 648.4L214.1 650.5L214.8 652.5L216.3 653.6L217.6 655.6L218.4 657.7L219.2 658.8L220.1 660.2L220.7 662.3L221.5 663.4L222.8 665.1L223.5 666.5L224.3 668.1L224.6 669.0L225.7 670.9L226.1 672.9L227.0 673.3L227.9 675.3L229.2 676.4L230.0 679.1L231.5 679.1L232.9 680.5L233.3 682.5L234.9 684.2L236.7 684.7L238.6 684.8L240.1 686.6L241.2 687.0" fill="none" stroke="#000" stroke-width="3.05" stroke-linejoin="round"/>
</g>
<rect x="40.90" y="488.50" width="200.85" height="200.00" fill="none" stroke="#222" stroke-width="1"/>
<line x1="40.90" y1="688.50" x2="40.90" y2="693.50" stroke="#222" stroke-width="1"/>
<line x1="56.02" y1="688.50" x2="56.02" y2="691.00" stroke="#222" stroke-width="1"/>
<line x1="64.86" y1="688.50" x2="64.86" y2="691.00" stroke="#222" stroke-width="1"/>
<line x1="71.13" y1="688.50" x2="71.13" y2="691.00" stroke="#222" stroke-width="1"/>
<line x1="76.00" y1="688.50" x2="76.00" y2="691.00" stroke="#222" stroke-width="1"/>
<line x1="79.97" y1="688.50" x2="79.97" y2="691.00" stroke="#222" stroke-width="1"/>
<line x1="83.33" y1="688.50" x2="83.33" y2="691.00" stroke="#222" stroke-width="1"/>
<line x1="86.25" y1="688.50" x2="86.25" y2="691.00" stroke="#222" stroke-width="1"/>
<line x1="88.81" y1="688.50" x2="88.81" y2="691.00" stroke="#222" stroke-width="1"/>
<line x1="91.11" y1="688.50" x2="91.11" y2="693.50" stroke="#222" stroke-width="1"/>
<line x1="106.23" y1="688.50" x2="106.23" y2="691.00" stroke="#222" stroke-width="1"/>
<line x1="115.07" y1="688.50" x2="115.07" y2="691.00" stroke="#222" stroke-width="1"/>
<line x1="121.34" y1="688.50" x2="121.34" y2="691.00" stroke="#222" stroke-width="1"/>
<line x1="126.21" y1="688.50" x2="126.21" y2="691.00" stroke="#222" stroke-width="1"/>
<line x1="130.19" y1="688.50" x2="130.19" y2="691.00" stroke="#222" stroke-width="1"/>
<line x1="133.55" y1="688.50" x2="133.55" y2="691.00" stroke="#222" stroke-width="1"/>
<line x1="136.46" y1="688.50" x2="136.46" y2="691.00" stroke="#222" stroke-width="1"/>
<line x1="139.03" y1="688.50" x2="139.03" y2="691.00" stroke="#222" stroke-width="1"/>
<line x1="141.32" y1="688.50" x2="141.32" y2="693.50" stroke="#222" stroke-width="1"/>
<line x1="156.44" y1="688.50" x2="156.44" y2="691.00" stroke="#222" stroke-width="1"/>
<line x1="165.28" y1="688.50" x2="165.28" y2="691.00" stroke="#222" stroke-width="1"/>
<line x1="171.56" y1="688.50" x2="171.56" y2="691.00" stroke="#222" stroke-width="1"/>
<line x1="176.42" y1="688.50" x2="176.42" y2="691.00" stroke="#222" stroke-width="1"/>
<line x1="180.40" y1="688.50" x2="180.40" y2="691.00" stroke="#222" stroke-width="1"/>
<line x1="183.76" y1="688.50" x2="183.76" y2="691.00" stroke="#222" stroke-width="1"/>
<line x1="186.67" y1="688.50" x2="186.67" y2="691.00" stroke="#222" stroke-width="1"/>
<line x1="189.24" y1="688.50" x2="189.24" y2="691.00" stroke="#222" stroke-width="1"/>
<line x1="191.54" y1="688.50" x2="191.54" y2="693.50" stroke="#222" stroke-width="1"/>
<line x1="206.65" y1="688.50" x2="206.65" y2="691.00" stroke="#222" stroke-width="1"/>
<line x1="215.49" y1="688.50" x2="215.49" y2="691.00" stroke="#222" stroke-width="1"/>
<line x1="221.77" y1="688.50" x2="221.77" y2="691.00" stroke="#222" stroke-width="1"/>
<line x1="226.63" y1="688.50" x2="226.63" y2="691.00" stroke="#222" stroke-width="1"/>
<line x1="230.61" y1="688.50" x2="230.61" y2="691.00" stroke="#222" stroke-width="1"/>
<line x1="233.97" y1="688.50" x2="233.97" y2="691.00" stroke="#222" stroke-width="1"/>
<line x1="236.88" y1="688.50" x2="236.88" y2="691.00" stroke="#222" stroke-width="1"/>
<line x1="239.45" y1="688.50" x2="239.45" y2="691.00" stroke="#222" stroke-width="1"/>
<line x1="241.75" y1="688.50" x2="241.75" y2="693.50" stroke="#222" stroke-width="1"/>
<text transform="translate(44.7 708.2) scale(0.90 1)" font-size="10.3" text-anchor="end" fill="#111">10</text>
<text transform="translate(44.9 703.9) scale(0.90 1)" font-size="8" text-anchor="start" fill="#111">0</text>
<text transform="translate(94.9 708.2) scale(0.90 1)" font-size="10.3" text-anchor="end" fill="#111">10</text>
<text transform="translate(95.1 703.9) scale(0.90 1)" font-size="8" text-anchor="start" fill="#111">1</text>
<text transform="translate(145.1 708.2) scale(0.90 1)" font-size="10.3" text-anchor="end" fill="#111">10</text>
<text transform="translate(145.3 703.9) scale(0.90 1)" font-size="8" text-anchor="start" fill="#111">2</text>
<text transform="translate(195.3 708.2) scale(0.90 1)" font-size="10.3" text-anchor="end" fill="#111">10</text>
<text transform="translate(195.5 703.9) scale(0.90 1)" font-size="8" text-anchor="start" fill="#111">3</text>
<text transform="translate(245.6 708.2) scale(0.90 1)" font-size="10.3" text-anchor="end" fill="#111">10</text>
<text transform="translate(245.8 703.9) scale(0.90 1)" font-size="8" text-anchor="start" fill="#111">4</text>
<line x1="35.80" y1="688.50" x2="40.90" y2="688.50" stroke="#222" stroke-width="1"/>
<text transform="translate(32.6 692.1) scale(0.90 1)" font-size="10.2" text-anchor="end" fill="#111">0</text>
<line x1="38.50" y1="678.95" x2="40.90" y2="678.95" stroke="#222" stroke-width="1"/>
<line x1="38.50" y1="669.40" x2="40.90" y2="669.40" stroke="#222" stroke-width="1"/>
<line x1="38.50" y1="659.85" x2="40.90" y2="659.85" stroke="#222" stroke-width="1"/>
<line x1="35.80" y1="650.30" x2="40.90" y2="650.30" stroke="#222" stroke-width="1"/>
<text transform="translate(32.6 653.9) scale(0.90 1)" font-size="10.2" text-anchor="end" fill="#111">20</text>
<line x1="38.50" y1="640.75" x2="40.90" y2="640.75" stroke="#222" stroke-width="1"/>
<line x1="38.50" y1="631.20" x2="40.90" y2="631.20" stroke="#222" stroke-width="1"/>
<line x1="38.50" y1="621.65" x2="40.90" y2="621.65" stroke="#222" stroke-width="1"/>
<line x1="35.80" y1="612.10" x2="40.90" y2="612.10" stroke="#222" stroke-width="1"/>
<text transform="translate(32.6 615.7) scale(0.90 1)" font-size="10.2" text-anchor="end" fill="#111">40</text>
<line x1="38.50" y1="602.55" x2="40.90" y2="602.55" stroke="#222" stroke-width="1"/>
<line x1="38.50" y1="593.00" x2="40.90" y2="593.00" stroke="#222" stroke-width="1"/>
<line x1="38.50" y1="583.45" x2="40.90" y2="583.45" stroke="#222" stroke-width="1"/>
<line x1="35.80" y1="573.90" x2="40.90" y2="573.90" stroke="#222" stroke-width="1"/>
<text transform="translate(32.6 577.5) scale(0.90 1)" font-size="10.2" text-anchor="end" fill="#111">60</text>
<line x1="38.50" y1="564.35" x2="40.90" y2="564.35" stroke="#222" stroke-width="1"/>
<line x1="38.50" y1="554.80" x2="40.90" y2="554.80" stroke="#222" stroke-width="1"/>
<line x1="38.50" y1="545.25" x2="40.90" y2="545.25" stroke="#222" stroke-width="1"/>
<line x1="35.80" y1="535.70" x2="40.90" y2="535.70" stroke="#222" stroke-width="1"/>
<text transform="translate(32.6 539.3) scale(0.90 1)" font-size="10.2" text-anchor="end" fill="#111">80</text>
<line x1="38.50" y1="526.15" x2="40.90" y2="526.15" stroke="#222" stroke-width="1"/>
<line x1="38.50" y1="516.60" x2="40.90" y2="516.60" stroke="#222" stroke-width="1"/>
<line x1="38.50" y1="507.05" x2="40.90" y2="507.05" stroke="#222" stroke-width="1"/>
<line x1="35.80" y1="497.50" x2="40.90" y2="497.50" stroke="#222" stroke-width="1"/>
<text transform="translate(32.6 501.1) scale(0.90 1)" font-size="10.2" text-anchor="end" fill="#111">100</text>
<text transform="translate(11.0 588.0) rotate(-90)" font-size="12.2"  text-anchor="middle" fill="#111">% of Max</text>
<text x="141.1" y="719.8" font-size="12.6" text-anchor="middle" fill="#111">IgM PE</text>
<text x="45.0" y="511.9" font-size="25" font-weight="bold" fill="#000">E</text>
<g clip-path="url(#clipF)">
<path d="M385 689.5V689.4H386V689.3H387V689.2H388V689.1H389V689.0H390V688.9H391V688.8H392V688.7H393V688.6H394V688.2H395V687.7H396V687.2H397V686.6H398V686.1H399V685.5H400V685.0H401V684.3H402V683.5H403V682.7H404V681.6H405V681.2H406V680.2H407V679.5H408V680.1H409V678.3H410V677.5H411V677.1H412V676.9H413V675.5H414V675.1H415V674.1H416V672.7H417V671.1H418V671.1H419V668.5H420V666.9H421V665.9H422V665.1H423V661.0H424V660.5H425V658.6H426V656.8H427V653.3H428V648.8H429V645.4H430V645.4H431V640.7H432V636.4H433V631.6H434V631.5H435V631.1H436V626.0H437V621.7H438V614.4H439V610.8H440V603.7H441V581.1H442V571.9H443V563.8H444V546.2H445V510.8H446V517.3H447V507.0H448V521.9H449V501.7H450V504.1H451V510.2H452V500.4H453V508.3H454V527.3H455V531.9H456V536.4H457V545.7H458V542.5H459V559.6H460V563.8H461V585.8H462V596.7H463V602.3H464V608.0H465V613.0H466V630.7H467V641.0H468V649.5H469V655.9H470V662.3H471V670.7H472V675.9H473V680.9H474V683.8H475V685.7H476V687.4H477V688.0H478V688.6H479V689.2H480V689.5Z" fill="#8c8c8c" stroke="none"/>
<path d="M310.5 689.6L370.0 688.5L371.2 683.5L372.5 671.0L373.8 654.8L376.2 654.8L378.8 656.0L381.2 657.2L383.0 646.0L385.0 638.5L387.5 631.0L389.5 618.5L392.5 613.5L394.5 616.0L396.2 606.0L397.5 596.0L400.0 586.0L402.5 576.0L404.5 568.5L406.2 567.2L408.0 556.0L410.0 548.5L411.2 541.0L413.0 539.8L414.5 526.0L415.5 511.0L417.0 518.5L418.0 508.5L419.5 502.2L420.5 513.5L422.0 523.5L423.8 516.0L425.0 503.5L426.2 501.0L427.5 516.0L428.8 526.0L430.5 531.0L432.0 541.0L433.8 548.5L435.0 541.0L436.2 553.5L438.0 556.0L439.5 553.5L441.2 563.5L441.5 596.0L443.0 606.0L445.0 613.5L447.5 623.5L450.0 631.0L453.8 633.5L456.2 643.5L458.8 651.0L461.2 659.8L463.0 662.2L465.0 661.5L467.0 668.5L468.8 676.0L471.2 679.8L473.8 682.2L478.0 688.0" fill="none" stroke="#000" stroke-width="1.15" stroke-linejoin="round"/>
<path d="M311.1 660.2L312.8 655.0L316.2 648.0L319.8 642.0L323.1 638.6L326.1 635.0L327.6 625.6L330.1 618.7L332.4 604.8L333.6 599.7L335.2 598.0L336.4 593.3L339.1 576.0L341.6 563.9L344.2 548.3L346.8 539.6L349.4 532.7L350.2 520.6L351.1 508.5L352.1 502.4L354.1 503.3L355.1 506.8L356.6 502.0L358.1 500.2L359.2 506.8L360.6 510.2L362.4 520.6L363.8 534.4L364.9 546.6L366.1 558.7L367.6 572.5L368.6 584.6L369.4 594.0L370.1 596.7L370.8 601.4L371.6 611.8L372.4 625.6L373.4 637.7L374.2 649.8L375.6 660.2L376.9 668.9L378.6 675.8L380.2 681.0L382.9 685.3L386.4 687.9L391.6 689.1L509.8 689.3" fill="none" stroke="#000" stroke-width="1.3" stroke-dasharray="2.2 1.6" stroke-linejoin="round"/>
<line x1="311.20" y1="490.10" x2="311.20" y2="689.50" stroke="#000" stroke-width="1.7" stroke-dasharray="1.8 2.7"/>
<path d="M310.5 689.2L312.1 689.2L313.7 689.2L315.3 689.2L316.9 689.2L318.5 689.2L320.2 689.2L321.8 689.2L323.4 689.2L325.0 689.2L326.6 689.2L328.2 689.2L329.8 689.2L331.4 689.2L333.0 689.2L334.6 689.2L336.2 689.2L337.9 689.3L339.5 689.3L341.1 689.3L342.7 689.3L344.3 689.3L345.9 689.3L347.5 689.3L349.1 689.3L350.7 689.3L352.3 689.3L354.0 689.3L355.6 689.3L357.2 689.3L358.8 689.3L360.4 689.3L362.0 689.3L363.9 689.2L365.8 689.0L367.7 688.9L369.6 688.8L371.2 688.5L372.8 688.2L374.4 688.0L376.0 687.7L377.6 686.9L379.6 687.3L380.9 687.4L382.1 686.9L383.8 685.8L385.4 686.2L387.6 685.8L388.6 684.7L390.2 684.3L392.0 684.2L393.3 683.3L395.6 683.5L396.5 683.3L398.5 682.1L400.2 681.7L401.3 680.4L402.8 680.1L404.4 678.2L405.7 677.8L407.9 677.7L410.1 676.0L411.4 675.4L412.9 673.8L414.5 672.6L416.2 671.5L416.9 670.6L418.0 669.2L419.3 667.1L420.1 665.3L421.5 664.4L422.0 662.9L423.4 660.3L424.0 659.0L424.3 658.5L425.2 656.2L426.3 654.8L427.2 653.6L427.5 650.7L428.6 649.1L428.7 647.4L429.5 645.7L430.0 644.4L430.3 642.9L430.6 640.3L431.4 639.2L431.5 636.8L431.7 635.4L432.5 633.5L432.3 631.9L432.9 630.6L433.7 628.5L433.5 627.1L434.1 625.6L434.7 623.1L434.6 622.1L434.7 620.0L435.6 618.2L435.5 616.5L436.4 615.6L436.6 614.0L436.4 612.2L436.9 609.9L436.9 608.0L437.5 607.0L437.9 604.5L438.3 602.7L438.8 601.0L438.6 599.3L439.3 597.9L439.3 596.1L439.9 594.0L439.9 592.6L440.5 590.5L440.3 589.9L440.6 587.0L440.8 586.7L440.9 584.7L441.4 582.2L441.6 580.4L441.0 579.6L441.4 578.0L441.6 576.1L441.8 574.6L442.2 573.3L442.0 571.7L441.8 569.6L442.4 567.0L442.3 566.3L442.4 564.1L443.2 562.0L443.4 560.0L443.3 558.3L443.9 556.9L444.5 555.6L444.7 552.8L444.7 552.5L444.9 550.3L445.3 548.0L445.7 546.6L445.5 545.9L445.3 543.8L445.6 542.2L445.9 540.5L446.2 538.8L446.8 537.1L447.0 534.5L447.2 533.4L447.0 531.3L447.5 529.5L447.9 527.2L448.3 526.6L447.8 523.6L448.4 522.3L448.6 520.6L448.7 518.8L449.0 516.9L449.5 515.4L449.9 514.0L450.0 511.6L450.2 510.3L449.9 508.3L450.1 506.9L450.8 504.9L451.1 503.5L450.9 501.6L453.0 501.9L454.6 502.1L456.4 502.5L456.7 504.2L456.6 505.4L456.6 506.5L456.7 508.7L457.0 510.9L457.6 511.7L457.7 513.7L457.5 515.4L457.5 516.8L458.1 519.0L458.4 521.2L458.8 522.9L458.7 524.1L458.6 525.8L458.6 527.4L459.2 529.1L459.1 531.3L459.4 532.8L459.4 534.5L459.8 536.7L459.8 537.4L460.5 539.3L460.6 541.7L460.7 542.1L460.6 544.7L460.6 546.4L460.9 547.2L461.7 549.4L461.2 551.4L461.9 553.3L462.2 554.3L462.3 555.3L462.2 557.4L462.2 560.0L462.5 560.9L462.6 563.4L462.3 564.1L462.5 566.1L463.2 567.0L463.2 569.4L463.6 570.7L463.7 572.6L463.8 574.9L463.6 575.9L463.5 578.0L464.3 579.1L464.2 581.0L464.3 583.2L464.1 584.4L464.7 585.9L465.0 588.4L465.3 589.1L465.4 591.6L464.9 592.2L465.0 594.8L465.7 595.6L465.9 597.4L466.3 599.2L466.1 601.3L466.4 603.1L466.0 604.8L466.4 606.1L466.6 607.1L466.5 609.1L466.7 610.7L467.3 612.1L467.2 614.2L467.0 616.4L467.3 618.3L467.4 619.7L467.8 621.4L468.0 622.0L468.2 624.7L468.4 626.6L468.3 628.3L468.0 629.4L468.4 630.3L468.3 632.8L468.7 633.7L468.6 636.0L469.1 638.0L469.7 639.4L469.8 640.5L470.1 642.4L470.1 643.9L469.8 645.7L470.5 648.0L470.8 648.9L470.8 651.0L471.1 652.5L470.8 653.7L471.0 656.1L471.8 657.8L471.8 659.8L471.6 661.0L472.4 663.5L472.3 664.8L472.9 666.2L472.7 668.7L473.2 670.9L474.0 671.7L474.1 672.9L473.9 675.7L474.6 676.1L475.4 678.0L475.2 680.0L476.2 681.0L477.2 682.9L477.4 684.8L479.0 685.2L479.8 687.5L481.2 688.0L483.3 688.3L485.4 688.7L487.5 689.0L489.1 689.0L490.7 689.0L492.3 689.1L493.9 689.1L495.5 689.1L497.1 689.1L498.8 689.1L500.4 689.2L502.0 689.2L503.6 689.2L505.2 689.2L506.8 689.3L508.4 689.3L510.0 689.3" fill="none" stroke="#000" stroke-width="3.05" stroke-linejoin="round"/>
</g>
<rect x="309.60" y="488.80" width="200.40" height="200.70" fill="none" stroke="#222" stroke-width="1"/>
<line x1="309.60" y1="689.50" x2="309.60" y2="694.50" stroke="#222" stroke-width="1"/>
<line x1="324.68" y1="689.50" x2="324.68" y2="692.00" stroke="#222" stroke-width="1"/>
<line x1="333.50" y1="689.50" x2="333.50" y2="692.00" stroke="#222" stroke-width="1"/>
<line x1="339.76" y1="689.50" x2="339.76" y2="692.00" stroke="#222" stroke-width="1"/>
<line x1="344.62" y1="689.50" x2="344.62" y2="692.00" stroke="#222" stroke-width="1"/>
<line x1="348.59" y1="689.50" x2="348.59" y2="692.00" stroke="#222" stroke-width="1"/>
<line x1="351.94" y1="689.50" x2="351.94" y2="692.00" stroke="#222" stroke-width="1"/>
<line x1="354.84" y1="689.50" x2="354.84" y2="692.00" stroke="#222" stroke-width="1"/>
<line x1="357.41" y1="689.50" x2="357.41" y2="692.00" stroke="#222" stroke-width="1"/>
<line x1="359.70" y1="689.50" x2="359.70" y2="694.50" stroke="#222" stroke-width="1"/>
<line x1="374.78" y1="689.50" x2="374.78" y2="692.00" stroke="#222" stroke-width="1"/>
<line x1="383.60" y1="689.50" x2="383.60" y2="692.00" stroke="#222" stroke-width="1"/>
<line x1="389.86" y1="689.50" x2="389.86" y2="692.00" stroke="#222" stroke-width="1"/>
<line x1="394.72" y1="689.50" x2="394.72" y2="692.00" stroke="#222" stroke-width="1"/>
<line x1="398.69" y1="689.50" x2="398.69" y2="692.00" stroke="#222" stroke-width="1"/>
<line x1="402.04" y1="689.50" x2="402.04" y2="692.00" stroke="#222" stroke-width="1"/>
<line x1="404.94" y1="689.50" x2="404.94" y2="692.00" stroke="#222" stroke-width="1"/>
<line x1="407.51" y1="689.50" x2="407.51" y2="692.00" stroke="#222" stroke-width="1"/>
<line x1="409.80" y1="689.50" x2="409.80" y2="694.50" stroke="#222" stroke-width="1"/>
<line x1="424.88" y1="689.50" x2="424.88" y2="692.00" stroke="#222" stroke-width="1"/>
<line x1="433.70" y1="689.50" x2="433.70" y2="692.00" stroke="#222" stroke-width="1"/>
<line x1="439.96" y1="689.50" x2="439.96" y2="692.00" stroke="#222" stroke-width="1"/>
<line x1="444.82" y1="689.50" x2="444.82" y2="692.00" stroke="#222" stroke-width="1"/>
<line x1="448.79" y1="689.50" x2="448.79" y2="692.00" stroke="#222" stroke-width="1"/>
<line x1="452.14" y1="689.50" x2="452.14" y2="692.00" stroke="#222" stroke-width="1"/>
<line x1="455.04" y1="689.50" x2="455.04" y2="692.00" stroke="#222" stroke-width="1"/>
<line x1="457.61" y1="689.50" x2="457.61" y2="692.00" stroke="#222" stroke-width="1"/>
<line x1="459.90" y1="689.50" x2="459.90" y2="694.50" stroke="#222" stroke-width="1"/>
<line x1="474.98" y1="689.50" x2="474.98" y2="692.00" stroke="#222" stroke-width="1"/>
<line x1="483.80" y1="689.50" x2="483.80" y2="692.00" stroke="#222" stroke-width="1"/>
<line x1="490.06" y1="689.50" x2="490.06" y2="692.00" stroke="#222" stroke-width="1"/>
<line x1="494.92" y1="689.50" x2="494.92" y2="692.00" stroke="#222" stroke-width="1"/>
<line x1="498.89" y1="689.50" x2="498.89" y2="692.00" stroke="#222" stroke-width="1"/>
<line x1="502.24" y1="689.50" x2="502.24" y2="692.00" stroke="#222" stroke-width="1"/>
<line x1="505.14" y1="689.50" x2="505.14" y2="692.00" stroke="#222" stroke-width="1"/>
<line x1="507.71" y1="689.50" x2="507.71" y2="692.00" stroke="#222" stroke-width="1"/>
<line x1="510.00" y1="689.50" x2="510.00" y2="694.50" stroke="#222" stroke-width="1"/>
<text transform="translate(313.0 708.8) scale(0.90 1)" font-size="10.3" text-anchor="end" fill="#111">10</text>
<text transform="translate(313.2 704.5) scale(0.90 1)" font-size="8" text-anchor="start" fill="#111">0</text>
<text transform="translate(363.1 708.8) scale(0.90 1)" font-size="10.3" text-anchor="end" fill="#111">10</text>
<text transform="translate(363.3 704.5) scale(0.90 1)" font-size="8" text-anchor="start" fill="#111">1</text>
<text transform="translate(413.2 708.8) scale(0.90 1)" font-size="10.3" text-anchor="end" fill="#111">10</text>
<text transform="translate(413.4 704.5) scale(0.90 1)" font-size="8" text-anchor="start" fill="#111">2</text>
<text transform="translate(463.3 708.8) scale(0.90 1)" font-size="10.3" text-anchor="end" fill="#111">10</text>
<text transform="translate(463.5 704.5) scale(0.90 1)" font-size="8" text-anchor="start" fill="#111">3</text>
<text transform="translate(513.4 708.8) scale(0.90 1)" font-size="10.3" text-anchor="end" fill="#111">10</text>
<text transform="translate(513.6 704.5) scale(0.90 1)" font-size="8" text-anchor="start" fill="#111">4</text>
<line x1="304.50" y1="689.50" x2="309.60" y2="689.50" stroke="#222" stroke-width="1"/>
<text transform="translate(300.6 693.1) scale(0.90 1)" font-size="10.2" text-anchor="end" fill="#111">0</text>
<line x1="307.20" y1="679.94" x2="309.60" y2="679.94" stroke="#222" stroke-width="1"/>
<line x1="307.20" y1="670.38" x2="309.60" y2="670.38" stroke="#222" stroke-width="1"/>
<line x1="307.20" y1="660.82" x2="309.60" y2="660.82" stroke="#222" stroke-width="1"/>
<line x1="304.50" y1="651.26" x2="309.60" y2="651.26" stroke="#222" stroke-width="1"/>
<text transform="translate(300.6 654.9) scale(0.90 1)" font-size="10.2" text-anchor="end" fill="#111">20</text>
<line x1="307.20" y1="641.70" x2="309.60" y2="641.70" stroke="#222" stroke-width="1"/>
<line x1="307.20" y1="632.14" x2="309.60" y2="632.14" stroke="#222" stroke-width="1"/>
<line x1="307.20" y1="622.58" x2="309.60" y2="622.58" stroke="#222" stroke-width="1"/>
<line x1="304.50" y1="613.02" x2="309.60" y2="613.02" stroke="#222" stroke-width="1"/>
<text transform="translate(300.6 616.6) scale(0.90 1)" font-size="10.2" text-anchor="end" fill="#111">40</text>
<line x1="307.20" y1="603.46" x2="309.60" y2="603.46" stroke="#222" stroke-width="1"/>
<line x1="307.20" y1="593.90" x2="309.60" y2="593.90" stroke="#222" stroke-width="1"/>
<line x1="307.20" y1="584.34" x2="309.60" y2="584.34" stroke="#222" stroke-width="1"/>
<line x1="304.50" y1="574.78" x2="309.60" y2="574.78" stroke="#222" stroke-width="1"/>
<text transform="translate(300.6 578.4) scale(0.90 1)" font-size="10.2" text-anchor="end" fill="#111">60</text>
<line x1="307.20" y1="565.22" x2="309.60" y2="565.22" stroke="#222" stroke-width="1"/>
<line x1="307.20" y1="555.66" x2="309.60" y2="555.66" stroke="#222" stroke-width="1"/>
<line x1="307.20" y1="546.10" x2="309.60" y2="546.10" stroke="#222" stroke-width="1"/>
<line x1="304.50" y1="536.54" x2="309.60" y2="536.54" stroke="#222" stroke-width="1"/>
<text transform="translate(300.6 540.1) scale(0.90 1)" font-size="10.2" text-anchor="end" fill="#111">80</text>
<line x1="307.20" y1="526.98" x2="309.60" y2="526.98" stroke="#222" stroke-width="1"/>
<line x1="307.20" y1="517.42" x2="309.60" y2="517.42" stroke="#222" stroke-width="1"/>
<line x1="307.20" y1="507.86" x2="309.60" y2="507.86" stroke="#222" stroke-width="1"/>
<line x1="304.50" y1="498.30" x2="309.60" y2="498.30" stroke="#222" stroke-width="1"/>
<text transform="translate(300.6 501.9) scale(0.90 1)" font-size="10.2" text-anchor="end" fill="#111">100</text>
<text transform="translate(279.7 589.0) rotate(-90)" font-size="12.2"  text-anchor="middle" fill="#111">% of Max</text>
<text x="409.3" y="720.7" font-size="12.6" text-anchor="middle" fill="#111">IgD PE</text>
<text x="315.3" y="513.9" font-size="25" font-weight="bold" fill="#000">F</text>
</svg>
</body></html>
